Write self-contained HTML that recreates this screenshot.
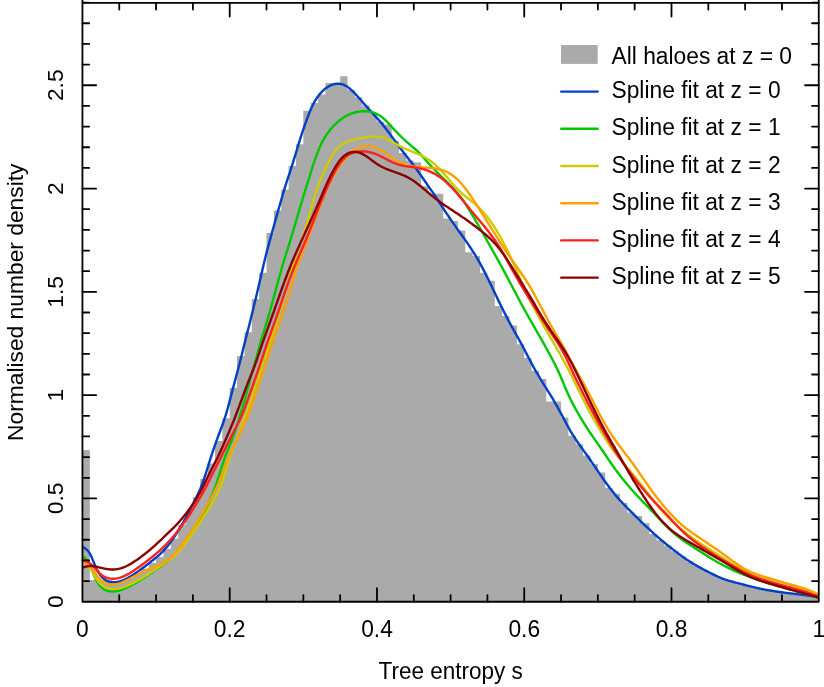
<!DOCTYPE html>
<html><head><meta charset="utf-8"><title>Tree entropy</title>
<style>html,body{margin:0;padding:0;background:#fff;}body{width:824px;height:687px;overflow:hidden;font-family:"Liberation Sans",sans-serif;}</style>
</head><body>
<svg width="824" height="687" viewBox="0 0 824 687" style="display:block;will-change:transform;font-family:'Liberation Sans',sans-serif">
<rect x="0" y="0" width="824" height="687" fill="#ffffff"/>
<path d="M82.45 601.75 L82.45 449.90 L89.81 449.90 L89.81 579.93 L97.18 579.93 L97.18 579.93 L104.54 579.93 L104.54 580.06 L111.90 580.06 L111.90 582.18 L119.27 582.18 L119.27 580.22 L126.63 580.22 L126.63 578.17 L133.99 578.17 L133.99 573.79 L141.35 573.79 L141.35 568.75 L148.72 568.75 L148.72 563.01 L156.08 563.01 L156.08 556.91 L163.44 556.91 L163.44 549.07 L170.81 549.07 L170.81 538.64 L178.17 538.64 L178.17 524.74 L185.53 524.74 L185.53 511.35 L192.89 511.35 L192.89 496.95 L200.26 496.95 L200.26 479.01 L207.62 479.01 L207.62 463.45 L214.98 463.45 L214.98 440.97 L222.35 440.97 L222.35 418.32 L229.71 418.32 L229.71 387.66 L237.07 387.66 L237.07 356.12 L244.44 356.12 L244.44 332.27 L251.80 332.27 L251.80 299.06 L259.16 299.06 L259.16 272.66 L266.52 272.66 L266.52 233.11 L273.89 233.11 L273.89 210.46 L281.25 210.46 L281.25 189.51 L288.61 189.51 L288.61 166.06 L295.98 166.06 L295.98 144.31 L303.34 144.31 L303.34 110.75 L310.70 110.75 L310.70 102.92 L318.07 102.92 L318.07 94.57 L325.43 94.57 L325.43 82.99 L332.79 82.99 L332.79 83.50 L340.15 83.50 L340.15 76.18 L347.52 76.18 L347.52 89.81 L354.88 89.81 L354.88 97.23 L362.24 97.23 L362.24 105.39 L369.61 105.39 L369.61 113.02 L376.97 113.02 L376.97 121.82 L384.33 121.82 L384.33 124.50 L391.70 124.50 L391.70 140.83 L399.06 140.83 L399.06 152.91 L406.42 152.91 L406.42 160.54 L413.78 160.54 L413.78 162.36 L421.15 162.36 L421.15 186.20 L428.51 186.20 L428.51 193.87 L435.87 193.87 L435.87 193.87 L443.24 193.87 L443.24 218.56 L450.60 218.56 L450.60 221.12 L457.96 221.12 L457.96 230.49 L465.33 230.49 L465.33 252.18 L472.69 252.18 L472.69 256.00 L480.05 256.00 L480.05 272.69 L487.42 272.69 L487.42 280.86 L494.78 280.86 L494.78 305.90 L502.14 305.90 L502.14 316.12 L509.50 316.12 L509.50 325.49 L516.87 325.49 L516.87 344.37 L524.23 344.37 L524.23 357.99 L531.59 357.99 L531.59 370.77 L538.96 370.77 L538.96 378.94 L546.32 378.94 L546.32 401.42 L553.68 401.42 L553.68 401.42 L561.04 401.42 L561.04 417.60 L568.41 417.60 L568.41 435.72 L575.77 435.72 L575.77 444.24 L583.13 444.24 L583.13 455.55 L590.50 455.55 L590.50 464.06 L597.86 464.06 L597.86 472.58 L605.22 472.58 L605.22 487.91 L612.59 487.91 L612.59 493.87 L619.95 493.87 L619.95 502.90 L627.31 502.90 L627.31 512.60 L634.67 512.60 L634.67 516.01 L642.04 516.01 L642.04 523.33 L649.40 523.33 L649.40 533.89 L656.76 533.89 L656.76 540.36 L664.13 540.36 L664.13 545.38 L671.49 545.38 L671.49 551.13 L678.85 551.13 L678.85 556.61 L686.22 556.61 L686.22 561.61 L693.58 561.61 L693.58 566.05 L700.94 566.05 L700.94 570.06 L708.30 570.06 L708.30 573.83 L715.67 573.83 L715.67 577.27 L723.03 577.27 L723.03 580.06 L730.39 580.06 L730.39 582.16 L737.76 582.16 L737.76 584.06 L745.12 584.06 L745.12 585.99 L752.48 585.99 L752.48 587.77 L759.85 587.77 L759.85 589.32 L767.21 589.32 L767.21 590.64 L774.57 590.64 L774.57 591.78 L781.93 591.78 L781.93 592.79 L789.30 592.79 L789.30 593.69 L796.66 593.69 L796.66 594.56 L804.02 594.56 L804.02 595.54 L811.39 595.54 L811.39 596.76 L818.75 596.76 L818.75 601.75 Z" fill="#aaaaaa" stroke="none"/>
<path d="M82.45 546.78 L83.50 547.40 L84.55 548.03 L85.61 548.72 L86.66 549.57 L87.71 550.62 L88.76 551.97 L89.81 553.61 L90.86 555.57 L91.92 557.85 L92.97 560.39 L94.02 563.00 L95.07 565.52 L96.12 567.88 L97.18 570.02 L98.23 571.93 L99.28 573.62 L100.33 575.12 L101.38 576.42 L102.44 577.56 L103.49 578.53 L104.54 579.36 L105.59 580.06 L106.64 580.65 L107.69 581.13 L108.75 581.52 L109.80 581.82 L110.85 582.05 L111.90 582.19 L112.95 582.27 L114.01 582.28 L115.06 582.23 L116.11 582.12 L117.16 581.96 L118.21 581.74 L119.27 581.48 L120.32 581.17 L121.37 580.82 L122.42 580.43 L123.47 580.01 L124.52 579.55 L125.58 579.06 L126.63 578.54 L127.68 577.99 L128.73 577.42 L129.78 576.82 L130.84 576.20 L131.89 575.56 L132.94 574.91 L133.99 574.23 L135.04 573.53 L136.09 572.82 L137.15 572.10 L138.20 571.36 L139.25 570.60 L140.30 569.84 L141.35 569.06 L142.41 568.28 L143.46 567.48 L144.51 566.68 L145.56 565.87 L146.61 565.06 L147.67 564.24 L148.72 563.42 L149.77 562.60 L150.82 561.77 L151.87 560.94 L152.92 560.11 L153.98 559.27 L155.03 558.42 L156.08 557.57 L157.13 556.70 L158.18 555.81 L159.24 554.91 L160.29 553.96 L161.34 552.97 L162.39 551.93 L163.44 550.83 L164.49 549.67 L165.55 548.47 L166.60 547.23 L167.65 545.95 L168.70 544.64 L169.75 543.28 L170.81 541.87 L171.86 540.41 L172.91 538.90 L173.96 537.36 L175.01 535.79 L176.07 534.18 L177.12 532.54 L178.17 530.87 L179.22 529.16 L180.27 527.41 L181.32 525.64 L182.38 523.83 L183.43 522.00 L184.48 520.14 L185.53 518.24 L186.58 516.31 L187.64 514.35 L188.69 512.36 L189.74 510.35 L190.79 508.31 L191.84 506.26 L192.89 504.21 L193.95 502.15 L195.00 500.09 L196.05 498.01 L197.10 495.88 L198.15 493.67 L199.21 491.35 L200.26 488.91 L201.31 486.31 L202.36 483.52 L203.41 480.56 L204.47 477.47 L205.52 474.27 L206.57 471.00 L207.62 467.67 L208.67 464.31 L209.72 460.96 L210.78 457.63 L211.83 454.37 L212.88 451.18 L213.93 448.07 L214.98 445.04 L216.04 442.06 L217.09 439.16 L218.14 436.31 L219.19 433.52 L220.24 430.74 L221.30 427.94 L222.35 425.10 L223.40 422.18 L224.45 419.13 L225.50 415.91 L226.55 412.46 L227.61 408.75 L228.66 404.87 L229.71 400.88 L230.76 396.86 L231.81 392.84 L232.87 388.82 L233.92 384.83 L234.97 380.86 L236.02 376.93 L237.07 372.99 L238.12 369.03 L239.18 365.03 L240.23 360.96 L241.28 356.81 L242.33 352.57 L243.38 348.26 L244.44 343.97 L245.49 339.74 L246.54 335.62 L247.59 331.54 L248.64 327.44 L249.70 323.27 L250.75 319.03 L251.80 314.74 L252.85 310.42 L253.90 306.08 L254.95 301.73 L256.01 297.37 L257.06 292.99 L258.11 288.56 L259.16 284.07 L260.21 279.52 L261.27 274.92 L262.32 270.32 L263.37 265.77 L264.42 261.28 L265.47 256.93 L266.52 252.79 L267.58 248.81 L268.63 244.93 L269.68 241.09 L270.73 237.25 L271.78 233.41 L272.84 229.60 L273.89 225.81 L274.94 222.04 L275.99 218.31 L277.04 214.61 L278.10 210.92 L279.15 207.25 L280.20 203.59 L281.25 199.93 L282.30 196.28 L283.35 192.68 L284.41 189.17 L285.46 185.76 L286.51 182.44 L287.56 179.21 L288.61 176.06 L289.67 172.92 L290.72 169.70 L291.77 166.41 L292.82 163.07 L293.87 159.70 L294.93 156.28 L295.98 152.78 L297.03 149.23 L298.08 145.71 L299.13 142.28 L300.18 138.96 L301.24 135.69 L302.29 132.43 L303.34 129.26 L304.39 126.25 L305.44 123.38 L306.50 120.55 L307.55 117.68 L308.60 114.84 L309.65 112.13 L310.70 109.57 L311.75 107.20 L312.81 105.00 L313.86 102.98 L314.91 101.11 L315.96 99.37 L317.01 97.76 L318.07 96.27 L319.12 94.90 L320.17 93.63 L321.22 92.46 L322.27 91.37 L323.33 90.36 L324.38 89.43 L325.43 88.58 L326.48 87.80 L327.53 87.09 L328.58 86.45 L329.64 85.87 L330.69 85.36 L331.74 84.92 L332.79 84.55 L333.84 84.24 L334.90 83.99 L335.95 83.82 L337.00 83.72 L338.05 83.69 L339.10 83.72 L340.15 83.84 L341.21 84.03 L342.26 84.30 L343.31 84.65 L344.36 85.08 L345.41 85.59 L346.47 86.18 L347.52 86.86 L348.57 87.61 L349.62 88.43 L350.67 89.33 L351.73 90.29 L352.78 91.32 L353.83 92.39 L354.88 93.50 L355.93 94.63 L356.98 95.79 L358.04 96.96 L359.09 98.14 L360.14 99.33 L361.19 100.53 L362.24 101.73 L363.30 102.93 L364.35 104.13 L365.40 105.31 L366.45 106.49 L367.50 107.67 L368.56 108.84 L369.61 110.01 L370.66 111.17 L371.71 112.32 L372.76 113.48 L373.81 114.63 L374.87 115.77 L375.92 116.92 L376.97 118.08 L378.02 119.24 L379.07 120.42 L380.13 121.62 L381.18 122.84 L382.23 124.10 L383.28 125.39 L384.33 126.70 L385.38 128.04 L386.44 129.40 L387.49 130.77 L388.54 132.17 L389.59 133.58 L390.64 135.01 L391.70 136.47 L392.75 137.94 L393.80 139.40 L394.85 140.86 L395.90 142.31 L396.96 143.75 L398.01 145.17 L399.06 146.57 L400.11 147.95 L401.16 149.33 L402.21 150.70 L403.27 152.08 L404.32 153.46 L405.37 154.84 L406.42 156.19 L407.47 157.53 L408.53 158.85 L409.58 160.17 L410.63 161.49 L411.68 162.81 L412.73 164.16 L413.78 165.52 L414.84 166.91 L415.89 168.33 L416.94 169.77 L417.99 171.25 L419.04 172.75 L420.10 174.26 L421.15 175.77 L422.20 177.27 L423.25 178.77 L424.30 180.27 L425.36 181.78 L426.41 183.30 L427.46 184.82 L428.51 186.34 L429.56 187.85 L430.61 189.36 L431.67 190.87 L432.72 192.38 L433.77 193.91 L434.82 195.46 L435.87 197.04 L436.93 198.64 L437.98 200.26 L439.03 201.89 L440.08 203.52 L441.13 205.15 L442.19 206.77 L443.24 208.38 L444.29 209.97 L445.34 211.56 L446.39 213.14 L447.44 214.70 L448.50 216.26 L449.55 217.80 L450.60 219.34 L451.65 220.86 L452.70 222.37 L453.76 223.88 L454.81 225.37 L455.86 226.86 L456.91 228.34 L457.96 229.82 L459.01 231.29 L460.07 232.76 L461.12 234.23 L462.17 235.71 L463.22 237.18 L464.27 238.66 L465.33 240.14 L466.38 241.64 L467.43 243.15 L468.48 244.68 L469.53 246.23 L470.59 247.80 L471.64 249.40 L472.69 251.03 L473.74 252.70 L474.79 254.39 L475.84 256.12 L476.90 257.89 L477.95 259.70 L479.00 261.55 L480.05 263.44 L481.10 265.37 L482.16 267.33 L483.21 269.32 L484.26 271.35 L485.31 273.41 L486.36 275.49 L487.42 277.61 L488.47 279.74 L489.52 281.90 L490.57 284.07 L491.62 286.26 L492.67 288.45 L493.73 290.66 L494.78 292.86 L495.83 295.06 L496.88 297.26 L497.93 299.45 L498.99 301.62 L500.04 303.78 L501.09 305.93 L502.14 308.06 L503.19 310.18 L504.24 312.27 L505.30 314.35 L506.35 316.41 L507.40 318.45 L508.45 320.47 L509.50 322.46 L510.56 324.42 L511.61 326.36 L512.66 328.27 L513.71 330.17 L514.76 332.04 L515.82 333.91 L516.87 335.76 L517.92 337.62 L518.97 339.49 L520.02 341.39 L521.07 343.33 L522.13 345.30 L523.18 347.29 L524.23 349.30 L525.28 351.33 L526.33 353.37 L527.39 355.42 L528.44 357.46 L529.49 359.49 L530.54 361.49 L531.59 363.46 L532.64 365.41 L533.70 367.32 L534.75 369.21 L535.80 371.06 L536.85 372.88 L537.90 374.68 L538.96 376.44 L540.01 378.18 L541.06 379.91 L542.11 381.61 L543.16 383.31 L544.22 385.01 L545.27 386.70 L546.32 388.39 L547.37 390.08 L548.42 391.78 L549.47 393.49 L550.53 395.21 L551.58 396.95 L552.63 398.70 L553.68 400.48 L554.73 402.27 L555.79 404.09 L556.84 405.94 L557.89 407.82 L558.94 409.71 L559.99 411.64 L561.04 413.58 L562.10 415.54 L563.15 417.52 L564.20 419.50 L565.25 421.49 L566.30 423.47 L567.36 425.42 L568.41 427.34 L569.46 429.22 L570.51 431.05 L571.56 432.82 L572.62 434.54 L573.67 436.21 L574.72 437.84 L575.77 439.43 L576.82 440.99 L577.87 442.52 L578.93 444.03 L579.98 445.51 L581.03 446.99 L582.08 448.45 L583.13 449.91 L584.19 451.37 L585.24 452.84 L586.29 454.31 L587.34 455.80 L588.39 457.29 L589.45 458.79 L590.50 460.30 L591.55 461.82 L592.60 463.36 L593.65 464.89 L594.70 466.44 L595.76 467.99 L596.81 469.54 L597.86 471.09 L598.91 472.64 L599.96 474.19 L601.02 475.72 L602.07 477.25 L603.12 478.77 L604.17 480.27 L605.22 481.75 L606.27 483.22 L607.33 484.66 L608.38 486.08 L609.43 487.49 L610.48 488.87 L611.53 490.22 L612.59 491.55 L613.64 492.86 L614.69 494.14 L615.74 495.40 L616.79 496.63 L617.85 497.84 L618.90 499.03 L619.95 500.20 L621.00 501.35 L622.05 502.49 L623.10 503.61 L624.16 504.72 L625.21 505.81 L626.26 506.90 L627.31 507.98 L628.36 509.05 L629.42 510.11 L630.47 511.17 L631.52 512.22 L632.57 513.27 L633.62 514.32 L634.67 515.36 L635.73 516.40 L636.78 517.43 L637.83 518.46 L638.88 519.49 L639.93 520.51 L640.99 521.53 L642.04 522.54 L643.09 523.54 L644.14 524.54 L645.19 525.53 L646.25 526.52 L647.30 527.50 L648.35 528.47 L649.40 529.45 L650.45 530.43 L651.50 531.40 L652.56 532.37 L653.61 533.34 L654.66 534.29 L655.71 535.24 L656.76 536.17 L657.82 537.10 L658.87 538.02 L659.92 538.92 L660.97 539.81 L662.02 540.68 L663.08 541.55 L664.13 542.42 L665.18 543.27 L666.23 544.12 L667.28 544.96 L668.33 545.79 L669.39 546.62 L670.44 547.45 L671.49 548.27 L672.54 549.10 L673.59 549.91 L674.65 550.73 L675.70 551.54 L676.75 552.34 L677.80 553.13 L678.85 553.92 L679.90 554.70 L680.96 555.47 L682.01 556.24 L683.06 556.99 L684.11 557.73 L685.16 558.46 L686.22 559.18 L687.27 559.89 L688.32 560.59 L689.37 561.27 L690.42 561.95 L691.48 562.61 L692.53 563.26 L693.58 563.89 L694.63 564.52 L695.68 565.14 L696.73 565.75 L697.79 566.35 L698.84 566.94 L699.89 567.52 L700.94 568.09 L701.99 568.66 L703.05 569.22 L704.10 569.78 L705.15 570.34 L706.20 570.88 L707.25 571.43 L708.30 571.97 L709.36 572.51 L710.41 573.04 L711.46 573.57 L712.51 574.09 L713.56 574.60 L714.62 575.11 L715.67 575.61 L716.72 576.10 L717.77 576.58 L718.82 577.04 L719.88 577.49 L720.93 577.93 L721.98 578.35 L723.03 578.76 L724.08 579.15 L725.13 579.53 L726.19 579.89 L727.24 580.23 L728.29 580.56 L729.34 580.87 L730.39 581.17 L731.45 581.47 L732.50 581.75 L733.55 582.03 L734.60 582.30 L735.65 582.57 L736.71 582.84 L737.76 583.11 L738.81 583.38 L739.86 583.65 L740.91 583.93 L741.96 584.20 L743.02 584.48 L744.07 584.76 L745.12 585.03 L746.17 585.31 L747.22 585.58 L748.28 585.85 L749.33 586.12 L750.38 586.39 L751.43 586.65 L752.48 586.91 L753.53 587.16 L754.59 587.41 L755.64 587.65 L756.69 587.89 L757.74 588.13 L758.79 588.36 L759.85 588.58 L760.90 588.80 L761.95 589.01 L763.00 589.22 L764.05 589.43 L765.11 589.63 L766.16 589.82 L767.21 590.01 L768.26 590.20 L769.31 590.38 L770.36 590.55 L771.42 590.73 L772.47 590.90 L773.52 591.06 L774.57 591.23 L775.62 591.39 L776.68 591.54 L777.73 591.70 L778.78 591.85 L779.83 592.00 L780.88 592.15 L781.93 592.30 L782.99 592.44 L784.04 592.58 L785.09 592.72 L786.14 592.86 L787.19 592.99 L788.25 593.12 L789.30 593.25 L790.35 593.38 L791.40 593.51 L792.45 593.63 L793.51 593.76 L794.56 593.88 L795.61 594.00 L796.66 594.12 L797.71 594.24 L798.76 594.37 L799.82 594.49 L800.87 594.62 L801.92 594.75 L802.97 594.88 L804.02 595.02 L805.08 595.16 L806.13 595.31 L807.18 595.46 L808.23 595.62 L809.28 595.78 L810.34 595.95 L811.39 596.12 L812.44 596.30 L813.49 596.48 L814.54 596.66 L815.59 596.85 L816.65 597.04 L817.70 597.23 L818.75 597.42" fill="none" stroke="#0040c8" stroke-width="2.4" stroke-linejoin="round" stroke-linecap="butt"/>
<path d="M82.45 556.10 L83.50 557.01 L84.55 557.93 L85.61 558.93 L86.66 560.07 L87.71 561.42 L88.76 563.06 L89.81 565.05 L90.86 567.38 L91.92 569.97 L92.97 572.68 L94.02 575.34 L95.07 577.79 L96.12 579.96 L97.18 581.87 L98.23 583.53 L99.28 584.96 L100.33 586.20 L101.38 587.26 L102.44 588.16 L103.49 588.92 L104.54 589.55 L105.59 590.08 L106.64 590.52 L107.69 590.86 L108.75 591.12 L109.80 591.30 L110.85 591.42 L111.90 591.48 L112.95 591.48 L114.01 591.43 L115.06 591.33 L116.11 591.18 L117.16 590.99 L118.21 590.75 L119.27 590.48 L120.32 590.18 L121.37 589.83 L122.42 589.46 L123.47 589.06 L124.52 588.63 L125.58 588.18 L126.63 587.70 L127.68 587.21 L128.73 586.69 L129.78 586.16 L130.84 585.60 L131.89 585.04 L132.94 584.45 L133.99 583.86 L135.04 583.26 L136.09 582.65 L137.15 582.02 L138.20 581.40 L139.25 580.76 L140.30 580.11 L141.35 579.46 L142.41 578.80 L143.46 578.13 L144.51 577.46 L145.56 576.78 L146.61 576.10 L147.67 575.41 L148.72 574.71 L149.77 574.00 L150.82 573.28 L151.87 572.55 L152.92 571.82 L153.98 571.08 L155.03 570.34 L156.08 569.60 L157.13 568.86 L158.18 568.11 L159.24 567.36 L160.29 566.60 L161.34 565.84 L162.39 565.07 L163.44 564.30 L164.49 563.52 L165.55 562.73 L166.60 561.93 L167.65 561.11 L168.70 560.27 L169.75 559.41 L170.81 558.52 L171.86 557.59 L172.91 556.64 L173.96 555.64 L175.01 554.60 L176.07 553.51 L177.12 552.37 L178.17 551.17 L179.22 549.92 L180.27 548.63 L181.32 547.31 L182.38 545.94 L183.43 544.55 L184.48 543.12 L185.53 541.67 L186.58 540.19 L187.64 538.69 L188.69 537.17 L189.74 535.63 L190.79 534.07 L191.84 532.50 L192.89 530.92 L193.95 529.32 L195.00 527.70 L196.05 526.06 L197.10 524.39 L198.15 522.70 L199.21 520.98 L200.26 519.23 L201.31 517.43 L202.36 515.59 L203.41 513.68 L204.47 511.71 L205.52 509.65 L206.57 507.52 L207.62 505.29 L208.67 502.96 L209.72 500.56 L210.78 498.09 L211.83 495.58 L212.88 493.04 L213.93 490.43 L214.98 487.70 L216.04 484.81 L217.09 481.71 L218.14 478.47 L219.19 475.15 L220.24 471.76 L221.30 468.37 L222.35 465.03 L223.40 461.77 L224.45 458.67 L225.50 455.76 L226.55 453.05 L227.61 450.44 L228.66 447.89 L229.71 445.36 L230.76 442.79 L231.81 440.16 L232.87 437.40 L233.92 434.49 L234.97 431.45 L236.02 428.27 L237.07 424.99 L238.12 421.60 L239.18 418.13 L240.23 414.67 L241.28 411.24 L242.33 407.81 L243.38 404.33 L244.44 400.72 L245.49 396.98 L246.54 393.12 L247.59 389.18 L248.64 385.20 L249.70 381.25 L250.75 377.40 L251.80 373.64 L252.85 369.93 L253.90 366.25 L254.95 362.55 L256.01 358.81 L257.06 355.00 L258.11 351.16 L259.16 347.35 L260.21 343.62 L261.27 340.01 L262.32 336.54 L263.37 333.12 L264.42 329.68 L265.47 326.23 L266.52 322.74 L267.58 319.22 L268.63 315.63 L269.68 311.99 L270.73 308.27 L271.78 304.49 L272.84 300.66 L273.89 296.81 L274.94 292.93 L275.99 289.06 L277.04 285.20 L278.10 281.35 L279.15 277.55 L280.20 273.79 L281.25 270.08 L282.30 266.45 L283.35 262.89 L284.41 259.41 L285.46 255.98 L286.51 252.62 L287.56 249.30 L288.61 245.99 L289.67 242.64 L290.72 239.20 L291.77 235.71 L292.82 232.19 L293.87 228.65 L294.93 225.09 L295.98 221.51 L297.03 217.91 L298.08 214.31 L299.13 210.73 L300.18 207.17 L301.24 203.63 L302.29 200.10 L303.34 196.60 L304.39 193.16 L305.44 189.77 L306.50 186.39 L307.55 183.03 L308.60 179.65 L309.65 176.27 L310.70 172.88 L311.75 169.52 L312.81 166.21 L313.86 163.00 L314.91 159.90 L315.96 156.91 L317.01 154.04 L318.07 151.32 L319.12 148.75 L320.17 146.33 L321.22 144.05 L322.27 141.92 L323.33 139.92 L324.38 138.04 L325.43 136.29 L326.48 134.68 L327.53 133.17 L328.58 131.76 L329.64 130.41 L330.69 129.12 L331.74 127.89 L332.79 126.72 L333.84 125.61 L334.90 124.55 L335.95 123.53 L337.00 122.56 L338.05 121.63 L339.10 120.76 L340.15 119.94 L341.21 119.17 L342.26 118.43 L343.31 117.73 L344.36 117.06 L345.41 116.42 L346.47 115.83 L347.52 115.27 L348.57 114.75 L349.62 114.28 L350.67 113.84 L351.73 113.44 L352.78 113.08 L353.83 112.76 L354.88 112.47 L355.93 112.21 L356.98 111.99 L358.04 111.79 L359.09 111.63 L360.14 111.49 L361.19 111.38 L362.24 111.30 L363.30 111.25 L364.35 111.23 L365.40 111.24 L366.45 111.28 L367.50 111.36 L368.56 111.47 L369.61 111.62 L370.66 111.81 L371.71 112.05 L372.76 112.33 L373.81 112.66 L374.87 113.05 L375.92 113.49 L376.97 113.98 L378.02 114.54 L379.07 115.16 L380.13 115.84 L381.18 116.58 L382.23 117.39 L383.28 118.26 L384.33 119.19 L385.38 120.17 L386.44 121.20 L387.49 122.27 L388.54 123.38 L389.59 124.51 L390.64 125.66 L391.70 126.80 L392.75 127.94 L393.80 129.07 L394.85 130.20 L395.90 131.32 L396.96 132.43 L398.01 133.53 L399.06 134.62 L400.11 135.68 L401.16 136.73 L402.21 137.75 L403.27 138.75 L404.32 139.71 L405.37 140.66 L406.42 141.60 L407.47 142.53 L408.53 143.46 L409.58 144.38 L410.63 145.29 L411.68 146.19 L412.73 147.09 L413.78 147.97 L414.84 148.86 L415.89 149.76 L416.94 150.69 L417.99 151.67 L419.04 152.70 L420.10 153.79 L421.15 154.93 L422.20 156.12 L423.25 157.32 L424.30 158.53 L425.36 159.73 L426.41 160.91 L427.46 162.09 L428.51 163.25 L429.56 164.40 L430.61 165.54 L431.67 166.67 L432.72 167.78 L433.77 168.89 L434.82 169.98 L435.87 171.06 L436.93 172.13 L437.98 173.18 L439.03 174.23 L440.08 175.27 L441.13 176.30 L442.19 177.33 L443.24 178.35 L444.29 179.38 L445.34 180.40 L446.39 181.43 L447.44 182.46 L448.50 183.50 L449.55 184.56 L450.60 185.62 L451.65 186.71 L452.70 187.81 L453.76 188.93 L454.81 190.07 L455.86 191.24 L456.91 192.45 L457.96 193.69 L459.01 194.97 L460.07 196.31 L461.12 197.70 L462.17 199.15 L463.22 200.65 L464.27 202.20 L465.33 203.80 L466.38 205.42 L467.43 207.08 L468.48 208.77 L469.53 210.47 L470.59 212.18 L471.64 213.92 L472.69 215.66 L473.74 217.42 L474.79 219.20 L475.84 220.98 L476.90 222.77 L477.95 224.57 L479.00 226.38 L480.05 228.19 L481.10 230.01 L482.16 231.84 L483.21 233.69 L484.26 235.55 L485.31 237.43 L486.36 239.33 L487.42 241.24 L488.47 243.14 L489.52 245.04 L490.57 246.91 L491.62 248.77 L492.67 250.63 L493.73 252.49 L494.78 254.36 L495.83 256.23 L496.88 258.11 L497.93 259.99 L498.99 261.89 L500.04 263.80 L501.09 265.72 L502.14 267.66 L503.19 269.60 L504.24 271.56 L505.30 273.52 L506.35 275.49 L507.40 277.48 L508.45 279.46 L509.50 281.46 L510.56 283.46 L511.61 285.46 L512.66 287.47 L513.71 289.48 L514.76 291.49 L515.82 293.50 L516.87 295.51 L517.92 297.50 L518.97 299.49 L520.02 301.47 L521.07 303.43 L522.13 305.37 L523.18 307.30 L524.23 309.21 L525.28 311.12 L526.33 313.01 L527.39 314.89 L528.44 316.76 L529.49 318.62 L530.54 320.48 L531.59 322.33 L532.64 324.17 L533.70 326.00 L534.75 327.83 L535.80 329.65 L536.85 331.47 L537.90 333.30 L538.96 335.13 L540.01 336.98 L541.06 338.83 L542.11 340.69 L543.16 342.56 L544.22 344.44 L545.27 346.33 L546.32 348.22 L547.37 350.14 L548.42 352.08 L549.47 354.02 L550.53 355.98 L551.58 357.94 L552.63 359.91 L553.68 361.93 L554.73 363.98 L555.79 366.07 L556.84 368.21 L557.89 370.39 L558.94 372.66 L559.99 375.03 L561.04 377.49 L562.10 380.03 L563.15 382.58 L564.20 385.11 L565.25 387.60 L566.30 390.05 L567.36 392.44 L568.41 394.77 L569.46 397.03 L570.51 399.22 L571.56 401.35 L572.62 403.41 L573.67 405.43 L574.72 407.39 L575.77 409.31 L576.82 411.19 L577.87 413.03 L578.93 414.84 L579.98 416.62 L581.03 418.38 L582.08 420.11 L583.13 421.82 L584.19 423.50 L585.24 425.17 L586.29 426.82 L587.34 428.44 L588.39 430.05 L589.45 431.64 L590.50 433.21 L591.55 434.76 L592.60 436.30 L593.65 437.84 L594.70 439.36 L595.76 440.88 L596.81 442.39 L597.86 443.91 L598.91 445.43 L599.96 446.95 L601.02 448.47 L602.07 450.01 L603.12 451.55 L604.17 453.10 L605.22 454.67 L606.27 456.24 L607.33 457.81 L608.38 459.37 L609.43 460.93 L610.48 462.46 L611.53 463.99 L612.59 465.49 L613.64 466.98 L614.69 468.45 L615.74 469.89 L616.79 471.31 L617.85 472.72 L618.90 474.10 L619.95 475.47 L621.00 476.81 L622.05 478.15 L623.10 479.46 L624.16 480.76 L625.21 482.05 L626.26 483.32 L627.31 484.57 L628.36 485.81 L629.42 487.04 L630.47 488.25 L631.52 489.45 L632.57 490.64 L633.62 491.82 L634.67 492.98 L635.73 494.13 L636.78 495.28 L637.83 496.41 L638.88 497.54 L639.93 498.65 L640.99 499.76 L642.04 500.85 L643.09 501.94 L644.14 503.02 L645.19 504.10 L646.25 505.17 L647.30 506.25 L648.35 507.32 L649.40 508.39 L650.45 509.46 L651.50 510.54 L652.56 511.63 L653.61 512.72 L654.66 513.83 L655.71 514.95 L656.76 516.07 L657.82 517.20 L658.87 518.33 L659.92 519.45 L660.97 520.58 L662.02 521.69 L663.08 522.80 L664.13 523.89 L665.18 524.97 L666.23 526.03 L667.28 527.08 L668.33 528.10 L669.39 529.11 L670.44 530.09 L671.49 531.05 L672.54 531.99 L673.59 532.91 L674.65 533.81 L675.70 534.68 L676.75 535.53 L677.80 536.36 L678.85 537.17 L679.90 537.97 L680.96 538.74 L682.01 539.50 L683.06 540.25 L684.11 540.99 L685.16 541.71 L686.22 542.43 L687.27 543.14 L688.32 543.85 L689.37 544.55 L690.42 545.24 L691.48 545.92 L692.53 546.60 L693.58 547.28 L694.63 547.96 L695.68 548.64 L696.73 549.32 L697.79 549.99 L698.84 550.67 L699.89 551.34 L700.94 552.01 L701.99 552.68 L703.05 553.34 L704.10 554.01 L705.15 554.67 L706.20 555.32 L707.25 555.97 L708.30 556.62 L709.36 557.27 L710.41 557.92 L711.46 558.56 L712.51 559.19 L713.56 559.82 L714.62 560.45 L715.67 561.07 L716.72 561.68 L717.77 562.29 L718.82 562.89 L719.88 563.48 L720.93 564.06 L721.98 564.63 L723.03 565.20 L724.08 565.76 L725.13 566.30 L726.19 566.84 L727.24 567.37 L728.29 567.89 L729.34 568.40 L730.39 568.91 L731.45 569.41 L732.50 569.90 L733.55 570.38 L734.60 570.86 L735.65 571.33 L736.71 571.79 L737.76 572.25 L738.81 572.69 L739.86 573.14 L740.91 573.57 L741.96 574.00 L743.02 574.43 L744.07 574.84 L745.12 575.26 L746.17 575.66 L747.22 576.07 L748.28 576.47 L749.33 576.86 L750.38 577.25 L751.43 577.64 L752.48 578.02 L753.53 578.40 L754.59 578.77 L755.64 579.14 L756.69 579.51 L757.74 579.87 L758.79 580.22 L759.85 580.57 L760.90 580.92 L761.95 581.27 L763.00 581.61 L764.05 581.94 L765.11 582.27 L766.16 582.60 L767.21 582.92 L768.26 583.24 L769.31 583.56 L770.36 583.87 L771.42 584.18 L772.47 584.49 L773.52 584.80 L774.57 585.11 L775.62 585.41 L776.68 585.72 L777.73 586.02 L778.78 586.32 L779.83 586.62 L780.88 586.92 L781.93 587.22 L782.99 587.52 L784.04 587.82 L785.09 588.11 L786.14 588.40 L787.19 588.70 L788.25 588.99 L789.30 589.28 L790.35 589.57 L791.40 589.85 L792.45 590.14 L793.51 590.43 L794.56 590.71 L795.61 591.00 L796.66 591.29 L797.71 591.57 L798.76 591.86 L799.82 592.15 L800.87 592.44 L801.92 592.73 L802.97 593.03 L804.02 593.33 L805.08 593.63 L806.13 593.93 L807.18 594.24 L808.23 594.55 L809.28 594.87 L810.34 595.19 L811.39 595.51 L812.44 595.84 L813.49 596.17 L814.54 596.50 L815.59 596.84 L816.65 597.17 L817.70 597.51 L818.75 597.84" fill="none" stroke="#00c800" stroke-width="2.4" stroke-linejoin="round" stroke-linecap="butt"/>
<path d="M82.45 560.71 L83.50 561.50 L84.55 562.31 L85.61 563.14 L86.66 564.05 L87.71 565.08 L88.76 566.26 L89.81 567.60 L90.86 569.12 L91.92 570.83 L92.97 572.69 L94.02 574.61 L95.07 576.50 L96.12 578.27 L97.18 579.89 L98.23 581.34 L99.28 582.62 L100.33 583.73 L101.38 584.69 L102.44 585.52 L103.49 586.24 L104.54 586.85 L105.59 587.38 L106.64 587.81 L107.69 588.17 L108.75 588.46 L109.80 588.69 L110.85 588.85 L111.90 588.96 L112.95 589.01 L114.01 589.01 L115.06 588.97 L116.11 588.88 L117.16 588.75 L118.21 588.58 L119.27 588.37 L120.32 588.13 L121.37 587.85 L122.42 587.54 L123.47 587.20 L124.52 586.84 L125.58 586.44 L126.63 586.03 L127.68 585.59 L128.73 585.13 L129.78 584.65 L130.84 584.16 L131.89 583.64 L132.94 583.12 L133.99 582.57 L135.04 582.02 L136.09 581.45 L137.15 580.88 L138.20 580.29 L139.25 579.70 L140.30 579.09 L141.35 578.47 L142.41 577.85 L143.46 577.21 L144.51 576.57 L145.56 575.93 L146.61 575.27 L147.67 574.61 L148.72 573.93 L149.77 573.25 L150.82 572.55 L151.87 571.84 L152.92 571.13 L153.98 570.41 L155.03 569.69 L156.08 568.96 L157.13 568.23 L158.18 567.50 L159.24 566.76 L160.29 566.02 L161.34 565.28 L162.39 564.54 L163.44 563.80 L164.49 563.06 L165.55 562.32 L166.60 561.58 L167.65 560.82 L168.70 560.07 L169.75 559.30 L170.81 558.52 L171.86 557.72 L172.91 556.90 L173.96 556.05 L175.01 555.16 L176.07 554.23 L177.12 553.24 L178.17 552.18 L179.22 551.06 L180.27 549.87 L181.32 548.63 L182.38 547.35 L183.43 546.03 L184.48 544.67 L185.53 543.29 L186.58 541.87 L187.64 540.42 L188.69 538.94 L189.74 537.45 L190.79 535.93 L191.84 534.40 L192.89 532.86 L193.95 531.32 L195.00 529.77 L196.05 528.22 L197.10 526.65 L198.15 525.08 L199.21 523.49 L200.26 521.89 L201.31 520.28 L202.36 518.65 L203.41 517.00 L204.47 515.35 L205.52 513.69 L206.57 512.01 L207.62 510.32 L208.67 508.61 L209.72 506.88 L210.78 505.13 L211.83 503.36 L212.88 501.56 L213.93 499.75 L214.98 497.90 L216.04 496.02 L217.09 494.07 L218.14 491.94 L219.19 489.57 L220.24 486.96 L221.30 484.12 L222.35 481.10 L223.40 477.92 L224.45 474.62 L225.50 471.25 L226.55 467.84 L227.61 464.45 L228.66 461.12 L229.71 457.91 L230.76 454.87 L231.81 452.02 L232.87 449.31 L233.92 446.68 L234.97 444.09 L236.02 441.50 L237.07 438.85 L238.12 436.10 L239.18 433.26 L240.23 430.34 L241.28 427.35 L242.33 424.32 L243.38 421.25 L244.44 418.17 L245.49 415.18 L246.54 412.29 L247.59 409.45 L248.64 406.60 L249.70 403.70 L250.75 400.71 L251.80 397.65 L252.85 394.50 L253.90 391.29 L254.95 388.01 L256.01 384.69 L257.06 381.39 L258.11 378.12 L259.16 374.87 L260.21 371.64 L261.27 368.42 L262.32 365.22 L263.37 362.02 L264.42 358.84 L265.47 355.65 L266.52 352.46 L267.58 349.26 L268.63 346.06 L269.68 342.85 L270.73 339.62 L271.78 336.37 L272.84 333.10 L273.89 329.80 L274.94 326.48 L275.99 323.14 L277.04 319.77 L278.10 316.38 L279.15 312.97 L280.20 309.52 L281.25 306.03 L282.30 302.49 L283.35 298.90 L284.41 295.23 L285.46 291.48 L286.51 287.67 L287.56 283.80 L288.61 279.92 L289.67 276.03 L290.72 272.17 L291.77 268.43 L292.82 264.90 L293.87 261.59 L294.93 258.40 L295.98 255.32 L297.03 252.30 L298.08 249.33 L299.13 246.39 L300.18 243.45 L301.24 240.48 L302.29 237.46 L303.34 234.40 L304.39 231.28 L305.44 228.12 L306.50 224.91 L307.55 221.62 L308.60 218.19 L309.65 214.59 L310.70 210.83 L311.75 206.93 L312.81 202.94 L313.86 199.06 L314.91 195.51 L315.96 192.22 L317.01 189.11 L318.07 186.11 L319.12 183.24 L320.17 180.46 L321.22 177.77 L322.27 175.18 L323.33 172.71 L324.38 170.36 L325.43 168.11 L326.48 165.95 L327.53 163.88 L328.58 161.90 L329.64 160.00 L330.69 158.15 L331.74 156.38 L332.79 154.72 L333.84 153.16 L334.90 151.71 L335.95 150.36 L337.00 149.12 L338.05 147.98 L339.10 146.94 L340.15 146.00 L341.21 145.15 L342.26 144.38 L343.31 143.70 L344.36 143.08 L345.41 142.53 L346.47 142.05 L347.52 141.61 L348.57 141.22 L349.62 140.87 L350.67 140.55 L351.73 140.26 L352.78 139.99 L353.83 139.74 L354.88 139.51 L355.93 139.28 L356.98 139.06 L358.04 138.84 L359.09 138.63 L360.14 138.42 L361.19 138.22 L362.24 138.01 L363.30 137.81 L364.35 137.62 L365.40 137.43 L366.45 137.26 L367.50 137.09 L368.56 136.93 L369.61 136.80 L370.66 136.67 L371.71 136.58 L372.76 136.50 L373.81 136.45 L374.87 136.43 L375.92 136.44 L376.97 136.49 L378.02 136.58 L379.07 136.71 L380.13 136.88 L381.18 137.09 L382.23 137.36 L383.28 137.66 L384.33 138.02 L385.38 138.42 L386.44 138.86 L387.49 139.35 L388.54 139.86 L389.59 140.41 L390.64 140.98 L391.70 141.56 L392.75 142.16 L393.80 142.76 L394.85 143.37 L395.90 143.97 L396.96 144.56 L398.01 145.15 L399.06 145.72 L400.11 146.28 L401.16 146.82 L402.21 147.34 L403.27 147.84 L404.32 148.33 L405.37 148.81 L406.42 149.26 L407.47 149.71 L408.53 150.15 L409.58 150.57 L410.63 150.99 L411.68 151.41 L412.73 151.83 L413.78 152.25 L414.84 152.67 L415.89 153.10 L416.94 153.54 L417.99 153.99 L419.04 154.45 L420.10 154.93 L421.15 155.43 L422.20 155.95 L423.25 156.50 L424.30 157.06 L425.36 157.66 L426.41 158.27 L427.46 158.92 L428.51 159.60 L429.56 160.31 L430.61 161.05 L431.67 161.83 L432.72 162.64 L433.77 163.49 L434.82 164.38 L435.87 165.32 L436.93 166.29 L437.98 167.30 L439.03 168.35 L440.08 169.43 L441.13 170.53 L442.19 171.66 L443.24 172.82 L444.29 174.00 L445.34 175.21 L446.39 176.45 L447.44 177.70 L448.50 178.97 L449.55 180.23 L450.60 181.49 L451.65 182.72 L452.70 183.93 L453.76 185.11 L454.81 186.26 L455.86 187.39 L456.91 188.50 L457.96 189.57 L459.01 190.63 L460.07 191.65 L461.12 192.64 L462.17 193.59 L463.22 194.51 L464.27 195.40 L465.33 196.27 L466.38 197.12 L467.43 197.95 L468.48 198.78 L469.53 199.60 L470.59 200.43 L471.64 201.27 L472.69 202.13 L473.74 203.00 L474.79 203.89 L475.84 204.81 L476.90 205.75 L477.95 206.72 L479.00 207.73 L480.05 208.77 L481.10 209.85 L482.16 210.98 L483.21 212.14 L484.26 213.35 L485.31 214.59 L486.36 215.88 L487.42 217.21 L488.47 218.59 L489.52 220.01 L490.57 221.47 L491.62 222.98 L492.67 224.53 L493.73 226.13 L494.78 227.76 L495.83 229.44 L496.88 231.15 L497.93 232.90 L498.99 234.68 L500.04 236.51 L501.09 238.37 L502.14 240.28 L503.19 242.23 L504.24 244.22 L505.30 246.25 L506.35 248.33 L507.40 250.44 L508.45 252.60 L509.50 254.81 L510.56 257.05 L511.61 259.34 L512.66 261.66 L513.71 264.02 L514.76 266.40 L515.82 268.80 L516.87 271.21 L517.92 273.61 L518.97 276.02 L520.02 278.41 L521.07 280.78 L522.13 283.13 L523.18 285.45 L524.23 287.75 L525.28 290.02 L526.33 292.27 L527.39 294.50 L528.44 296.70 L529.49 298.87 L530.54 301.00 L531.59 303.10 L532.64 305.17 L533.70 307.22 L534.75 309.26 L535.80 311.28 L536.85 313.29 L537.90 315.28 L538.96 317.25 L540.01 319.20 L541.06 321.13 L542.11 323.04 L543.16 324.92 L544.22 326.79 L545.27 328.63 L546.32 330.46 L547.37 332.27 L548.42 334.06 L549.47 335.85 L550.53 337.64 L551.58 339.43 L552.63 341.22 L553.68 343.03 L554.73 344.85 L555.79 346.68 L556.84 348.52 L557.89 350.36 L558.94 352.22 L559.99 354.09 L561.04 355.97 L562.10 357.86 L563.15 359.76 L564.20 361.68 L565.25 363.62 L566.30 365.58 L567.36 367.56 L568.41 369.58 L569.46 371.62 L570.51 373.69 L571.56 375.80 L572.62 377.93 L573.67 380.08 L574.72 382.25 L575.77 384.42 L576.82 386.59 L577.87 388.76 L578.93 390.92 L579.98 393.07 L581.03 395.21 L582.08 397.33 L583.13 399.43 L584.19 401.51 L585.24 403.57 L586.29 405.61 L587.34 407.62 L588.39 409.61 L589.45 411.57 L590.50 413.52 L591.55 415.44 L592.60 417.34 L593.65 419.21 L594.70 421.06 L595.76 422.89 L596.81 424.69 L597.86 426.48 L598.91 428.24 L599.96 429.98 L601.02 431.72 L602.07 433.44 L603.12 435.15 L604.17 436.84 L605.22 438.50 L606.27 440.16 L607.33 441.79 L608.38 443.40 L609.43 444.99 L610.48 446.54 L611.53 448.06 L612.59 449.54 L613.64 450.99 L614.69 452.41 L615.74 453.79 L616.79 455.14 L617.85 456.47 L618.90 457.78 L619.95 459.08 L621.00 460.36 L622.05 461.63 L623.10 462.90 L624.16 464.15 L625.21 465.40 L626.26 466.64 L627.31 467.88 L628.36 469.12 L629.42 470.36 L630.47 471.60 L631.52 472.84 L632.57 474.09 L633.62 475.35 L634.67 476.61 L635.73 477.88 L636.78 479.16 L637.83 480.45 L638.88 481.75 L639.93 483.05 L640.99 484.36 L642.04 485.69 L643.09 487.01 L644.14 488.35 L645.19 489.70 L646.25 491.05 L647.30 492.40 L648.35 493.76 L649.40 495.13 L650.45 496.50 L651.50 497.86 L652.56 499.23 L653.61 500.59 L654.66 501.95 L655.71 503.29 L656.76 504.62 L657.82 505.94 L658.87 507.23 L659.92 508.50 L660.97 509.75 L662.02 510.96 L663.08 512.14 L664.13 513.30 L665.18 514.43 L666.23 515.54 L667.28 516.63 L668.33 517.70 L669.39 518.75 L670.44 519.78 L671.49 520.79 L672.54 521.78 L673.59 522.76 L674.65 523.71 L675.70 524.66 L676.75 525.58 L677.80 526.49 L678.85 527.38 L679.90 528.26 L680.96 529.12 L682.01 529.97 L683.06 530.81 L684.11 531.63 L685.16 532.45 L686.22 533.26 L687.27 534.06 L688.32 534.85 L689.37 535.62 L690.42 536.40 L691.48 537.16 L692.53 537.92 L693.58 538.67 L694.63 539.41 L695.68 540.14 L696.73 540.86 L697.79 541.58 L698.84 542.29 L699.89 543.00 L700.94 543.69 L701.99 544.39 L703.05 545.07 L704.10 545.75 L705.15 546.43 L706.20 547.11 L707.25 547.79 L708.30 548.46 L709.36 549.14 L710.41 549.82 L711.46 550.49 L712.51 551.17 L713.56 551.85 L714.62 552.53 L715.67 553.21 L716.72 553.89 L717.77 554.57 L718.82 555.24 L719.88 555.92 L720.93 556.59 L721.98 557.26 L723.03 557.93 L724.08 558.60 L725.13 559.26 L726.19 559.92 L727.24 560.58 L728.29 561.23 L729.34 561.87 L730.39 562.51 L731.45 563.14 L732.50 563.76 L733.55 564.37 L734.60 564.98 L735.65 565.57 L736.71 566.16 L737.76 566.74 L738.81 567.31 L739.86 567.87 L740.91 568.42 L741.96 568.96 L743.02 569.49 L744.07 570.00 L745.12 570.50 L746.17 570.99 L747.22 571.47 L748.28 571.93 L749.33 572.37 L750.38 572.81 L751.43 573.22 L752.48 573.63 L753.53 574.02 L754.59 574.40 L755.64 574.77 L756.69 575.13 L757.74 575.47 L758.79 575.81 L759.85 576.14 L760.90 576.47 L761.95 576.78 L763.00 577.10 L764.05 577.40 L765.11 577.71 L766.16 578.01 L767.21 578.30 L768.26 578.60 L769.31 578.89 L770.36 579.18 L771.42 579.47 L772.47 579.76 L773.52 580.04 L774.57 580.33 L775.62 580.61 L776.68 580.89 L777.73 581.17 L778.78 581.45 L779.83 581.73 L780.88 582.00 L781.93 582.27 L782.99 582.54 L784.04 582.81 L785.09 583.08 L786.14 583.34 L787.19 583.60 L788.25 583.86 L789.30 584.12 L790.35 584.38 L791.40 584.65 L792.45 584.91 L793.51 585.18 L794.56 585.44 L795.61 585.72 L796.66 586.00 L797.71 586.28 L798.76 586.58 L799.82 586.88 L800.87 587.19 L801.92 587.52 L802.97 587.86 L804.02 588.21 L805.08 588.58 L806.13 588.96 L807.18 589.36 L808.23 589.77 L809.28 590.20 L810.34 590.65 L811.39 591.11 L812.44 591.58 L813.49 592.07 L814.54 592.56 L815.59 593.06 L816.65 593.57 L817.70 594.08 L818.75 594.60" fill="none" stroke="#cccc00" stroke-width="2.4" stroke-linejoin="round" stroke-linecap="butt"/>
<path d="M82.45 560.89 L83.50 561.51 L84.55 562.13 L85.61 562.78 L86.66 563.48 L87.71 564.26 L88.76 565.14 L89.81 566.14 L90.86 567.28 L91.92 568.56 L92.97 569.98 L94.02 571.48 L95.07 573.02 L96.12 574.55 L97.18 576.01 L98.23 577.39 L99.28 578.63 L100.33 579.73 L101.38 580.68 L102.44 581.49 L103.49 582.19 L104.54 582.78 L105.59 583.27 L106.64 583.67 L107.69 583.98 L108.75 584.22 L109.80 584.38 L110.85 584.48 L111.90 584.52 L112.95 584.50 L114.01 584.43 L115.06 584.31 L116.11 584.14 L117.16 583.93 L118.21 583.67 L119.27 583.37 L120.32 583.04 L121.37 582.67 L122.42 582.27 L123.47 581.84 L124.52 581.38 L125.58 580.90 L126.63 580.40 L127.68 579.88 L128.73 579.35 L129.78 578.80 L130.84 578.24 L131.89 577.67 L132.94 577.09 L133.99 576.51 L135.04 575.93 L136.09 575.35 L137.15 574.78 L138.20 574.22 L139.25 573.67 L140.30 573.12 L141.35 572.58 L142.41 572.05 L143.46 571.54 L144.51 571.04 L145.56 570.55 L146.61 570.08 L147.67 569.62 L148.72 569.17 L149.77 568.73 L150.82 568.28 L151.87 567.84 L152.92 567.40 L153.98 566.96 L155.03 566.51 L156.08 566.05 L157.13 565.57 L158.18 565.09 L159.24 564.59 L160.29 564.08 L161.34 563.54 L162.39 562.98 L163.44 562.39 L164.49 561.77 L165.55 561.12 L166.60 560.43 L167.65 559.70 L168.70 558.94 L169.75 558.12 L170.81 557.25 L171.86 556.33 L172.91 555.35 L173.96 554.31 L175.01 553.21 L176.07 552.05 L177.12 550.83 L178.17 549.56 L179.22 548.23 L180.27 546.86 L181.32 545.46 L182.38 544.04 L183.43 542.60 L184.48 541.16 L185.53 539.71 L186.58 538.24 L187.64 536.76 L188.69 535.26 L189.74 533.74 L190.79 532.19 L191.84 530.61 L192.89 529.00 L193.95 527.35 L195.00 525.67 L196.05 523.96 L197.10 522.23 L198.15 520.47 L199.21 518.70 L200.26 516.92 L201.31 515.14 L202.36 513.34 L203.41 511.54 L204.47 509.73 L205.52 507.92 L206.57 506.11 L207.62 504.30 L208.67 502.48 L209.72 500.66 L210.78 498.81 L211.83 496.93 L212.88 494.99 L213.93 492.98 L214.98 490.88 L216.04 488.68 L217.09 486.39 L218.14 484.00 L219.19 481.52 L220.24 478.93 L221.30 476.25 L222.35 473.50 L223.40 470.70 L224.45 467.89 L225.50 465.09 L226.55 462.33 L227.61 459.64 L228.66 457.05 L229.71 454.58 L230.76 452.22 L231.81 449.94 L232.87 447.74 L233.92 445.58 L234.97 443.46 L236.02 441.35 L237.07 439.24 L238.12 437.12 L239.18 434.98 L240.23 432.79 L241.28 430.57 L242.33 428.30 L243.38 425.98 L244.44 423.59 L245.49 421.13 L246.54 418.58 L247.59 415.94 L248.64 413.20 L249.70 410.38 L250.75 407.47 L251.80 404.50 L252.85 401.47 L253.90 398.39 L254.95 395.28 L256.01 392.14 L257.06 388.99 L258.11 385.85 L259.16 382.72 L260.21 379.64 L261.27 376.60 L262.32 373.59 L263.37 370.58 L264.42 367.54 L265.47 364.46 L266.52 361.30 L267.58 358.06 L268.63 354.77 L269.68 351.46 L270.73 348.16 L271.78 344.91 L272.84 341.73 L273.89 338.65 L274.94 335.66 L275.99 332.72 L277.04 329.83 L278.10 326.93 L279.15 324.02 L280.20 321.05 L281.25 318.02 L282.30 314.92 L283.35 311.76 L284.41 308.53 L285.46 305.25 L286.51 301.90 L287.56 298.51 L288.61 295.06 L289.67 291.58 L290.72 288.07 L291.77 284.54 L292.82 280.99 L293.87 277.45 L294.93 273.93 L295.98 270.51 L297.03 267.23 L298.08 264.14 L299.13 261.19 L300.18 258.35 L301.24 255.61 L302.29 252.93 L303.34 250.29 L304.39 247.65 L305.44 244.99 L306.50 242.29 L307.55 239.55 L308.60 236.78 L309.65 233.98 L310.70 231.16 L311.75 228.32 L312.81 225.49 L313.86 222.65 L314.91 219.81 L315.96 216.97 L317.01 214.14 L318.07 211.31 L319.12 208.49 L320.17 205.69 L321.22 202.93 L322.27 200.21 L323.33 197.56 L324.38 194.98 L325.43 192.47 L326.48 190.02 L327.53 187.63 L328.58 185.31 L329.64 183.06 L330.69 180.89 L331.74 178.80 L332.79 176.81 L333.84 174.90 L334.90 173.07 L335.95 171.30 L337.00 169.59 L338.05 167.96 L339.10 166.40 L340.15 164.90 L341.21 163.47 L342.26 162.10 L343.31 160.79 L344.36 159.53 L345.41 158.34 L346.47 157.20 L347.52 156.11 L348.57 155.08 L349.62 154.10 L350.67 153.17 L351.73 152.30 L352.78 151.48 L353.83 150.72 L354.88 150.01 L355.93 149.36 L356.98 148.77 L358.04 148.24 L359.09 147.76 L360.14 147.34 L361.19 146.97 L362.24 146.67 L363.30 146.43 L364.35 146.24 L365.40 146.11 L366.45 146.03 L367.50 146.02 L368.56 146.05 L369.61 146.15 L370.66 146.30 L371.71 146.50 L372.76 146.75 L373.81 147.06 L374.87 147.41 L375.92 147.82 L376.97 148.27 L378.02 148.76 L379.07 149.30 L380.13 149.88 L381.18 150.49 L382.23 151.14 L383.28 151.81 L384.33 152.51 L385.38 153.22 L386.44 153.94 L387.49 154.67 L388.54 155.41 L389.59 156.14 L390.64 156.86 L391.70 157.57 L392.75 158.26 L393.80 158.93 L394.85 159.58 L395.90 160.20 L396.96 160.80 L398.01 161.37 L399.06 161.91 L400.11 162.42 L401.16 162.90 L402.21 163.36 L403.27 163.78 L404.32 164.18 L405.37 164.54 L406.42 164.88 L407.47 165.19 L408.53 165.47 L409.58 165.73 L410.63 165.96 L411.68 166.17 L412.73 166.36 L413.78 166.52 L414.84 166.67 L415.89 166.81 L416.94 166.92 L417.99 167.03 L419.04 167.12 L420.10 167.20 L421.15 167.28 L422.20 167.34 L423.25 167.41 L424.30 167.47 L425.36 167.53 L426.41 167.60 L427.46 167.67 L428.51 167.74 L429.56 167.83 L430.61 167.92 L431.67 168.02 L432.72 168.14 L433.77 168.27 L434.82 168.43 L435.87 168.60 L436.93 168.79 L437.98 169.00 L439.03 169.24 L440.08 169.51 L441.13 169.80 L442.19 170.12 L443.24 170.47 L444.29 170.86 L445.34 171.29 L446.39 171.75 L447.44 172.25 L448.50 172.80 L449.55 173.39 L450.60 174.02 L451.65 174.71 L452.70 175.44 L453.76 176.23 L454.81 177.08 L455.86 177.97 L456.91 178.93 L457.96 179.93 L459.01 180.99 L460.07 182.11 L461.12 183.27 L462.17 184.49 L463.22 185.75 L464.27 187.06 L465.33 188.41 L466.38 189.81 L467.43 191.25 L468.48 192.72 L469.53 194.21 L470.59 195.74 L471.64 197.28 L472.69 198.84 L473.74 200.42 L474.79 202.03 L475.84 203.64 L476.90 205.28 L477.95 206.92 L479.00 208.58 L480.05 210.25 L481.10 211.93 L482.16 213.61 L483.21 215.30 L484.26 216.99 L485.31 218.67 L486.36 220.35 L487.42 222.03 L488.47 223.69 L489.52 225.36 L490.57 227.02 L491.62 228.69 L492.67 230.36 L493.73 232.03 L494.78 233.71 L495.83 235.38 L496.88 237.06 L497.93 238.74 L498.99 240.42 L500.04 242.09 L501.09 243.76 L502.14 245.41 L503.19 247.04 L504.24 248.66 L505.30 250.26 L506.35 251.85 L507.40 253.43 L508.45 254.98 L509.50 256.53 L510.56 258.05 L511.61 259.56 L512.66 261.06 L513.71 262.55 L514.76 264.04 L515.82 265.52 L516.87 267.00 L517.92 268.48 L518.97 269.97 L520.02 271.46 L521.07 272.97 L522.13 274.49 L523.18 276.03 L524.23 277.60 L525.28 279.19 L526.33 280.81 L527.39 282.46 L528.44 284.14 L529.49 285.87 L530.54 287.63 L531.59 289.43 L532.64 291.27 L533.70 293.15 L534.75 295.06 L535.80 297.00 L536.85 298.97 L537.90 300.97 L538.96 302.99 L540.01 305.02 L541.06 307.06 L542.11 309.11 L543.16 311.14 L544.22 313.16 L545.27 315.16 L546.32 317.13 L547.37 319.08 L548.42 320.99 L549.47 322.89 L550.53 324.75 L551.58 326.59 L552.63 328.40 L553.68 330.20 L554.73 331.99 L555.79 333.78 L556.84 335.56 L557.89 337.35 L558.94 339.16 L559.99 340.97 L561.04 342.79 L562.10 344.63 L563.15 346.49 L564.20 348.37 L565.25 350.27 L566.30 352.18 L567.36 354.11 L568.41 356.06 L569.46 358.04 L570.51 360.03 L571.56 362.02 L572.62 364.01 L573.67 365.99 L574.72 367.96 L575.77 369.92 L576.82 371.87 L577.87 373.77 L578.93 375.62 L579.98 377.44 L581.03 379.23 L582.08 381.03 L583.13 382.85 L584.19 384.71 L585.24 386.60 L586.29 388.53 L587.34 390.49 L588.39 392.47 L589.45 394.49 L590.50 396.52 L591.55 398.57 L592.60 400.64 L593.65 402.71 L594.70 404.78 L595.76 406.84 L596.81 408.90 L597.86 410.94 L598.91 412.97 L599.96 414.97 L601.02 416.94 L602.07 418.89 L603.12 420.80 L604.17 422.67 L605.22 424.51 L606.27 426.31 L607.33 428.06 L608.38 429.78 L609.43 431.45 L610.48 433.08 L611.53 434.67 L612.59 436.23 L613.64 437.76 L614.69 439.27 L615.74 440.76 L616.79 442.24 L617.85 443.69 L618.90 445.12 L619.95 446.53 L621.00 447.94 L622.05 449.34 L623.10 450.73 L624.16 452.11 L625.21 453.49 L626.26 454.86 L627.31 456.25 L628.36 457.63 L629.42 459.03 L630.47 460.44 L631.52 461.87 L632.57 463.30 L633.62 464.75 L634.67 466.22 L635.73 467.70 L636.78 469.20 L637.83 470.70 L638.88 472.22 L639.93 473.74 L640.99 475.27 L642.04 476.81 L643.09 478.34 L644.14 479.87 L645.19 481.40 L646.25 482.92 L647.30 484.43 L648.35 485.93 L649.40 487.41 L650.45 488.88 L651.50 490.33 L652.56 491.76 L653.61 493.18 L654.66 494.58 L655.71 495.95 L656.76 497.32 L657.82 498.66 L658.87 499.99 L659.92 501.30 L660.97 502.60 L662.02 503.89 L663.08 505.16 L664.13 506.42 L665.18 507.67 L666.23 508.91 L667.28 510.12 L668.33 511.33 L669.39 512.51 L670.44 513.67 L671.49 514.82 L672.54 515.94 L673.59 517.04 L674.65 518.12 L675.70 519.17 L676.75 520.20 L677.80 521.20 L678.85 522.18 L679.90 523.14 L680.96 524.07 L682.01 524.99 L683.06 525.88 L684.11 526.74 L685.16 527.60 L686.22 528.43 L687.27 529.24 L688.32 530.05 L689.37 530.83 L690.42 531.61 L691.48 532.37 L692.53 533.11 L693.58 533.85 L694.63 534.58 L695.68 535.30 L696.73 536.01 L697.79 536.71 L698.84 537.41 L699.89 538.11 L700.94 538.81 L701.99 539.50 L703.05 540.20 L704.10 540.90 L705.15 541.60 L706.20 542.30 L707.25 543.01 L708.30 543.72 L709.36 544.44 L710.41 545.16 L711.46 545.89 L712.51 546.62 L713.56 547.35 L714.62 548.09 L715.67 548.83 L716.72 549.58 L717.77 550.32 L718.82 551.07 L719.88 551.81 L720.93 552.56 L721.98 553.31 L723.03 554.06 L724.08 554.81 L725.13 555.57 L726.19 556.32 L727.24 557.07 L728.29 557.83 L729.34 558.59 L730.39 559.35 L731.45 560.11 L732.50 560.87 L733.55 561.61 L734.60 562.35 L735.65 563.08 L736.71 563.81 L737.76 564.52 L738.81 565.23 L739.86 565.92 L740.91 566.60 L741.96 567.26 L743.02 567.91 L744.07 568.54 L745.12 569.15 L746.17 569.73 L747.22 570.28 L748.28 570.82 L749.33 571.33 L750.38 571.82 L751.43 572.28 L752.48 572.73 L753.53 573.16 L754.59 573.57 L755.64 573.96 L756.69 574.34 L757.74 574.70 L758.79 575.06 L759.85 575.40 L760.90 575.74 L761.95 576.06 L763.00 576.39 L764.05 576.70 L765.11 577.02 L766.16 577.33 L767.21 577.64 L768.26 577.95 L769.31 578.26 L770.36 578.57 L771.42 578.88 L772.47 579.20 L773.52 579.52 L774.57 579.84 L775.62 580.16 L776.68 580.48 L777.73 580.81 L778.78 581.14 L779.83 581.47 L780.88 581.80 L781.93 582.12 L782.99 582.45 L784.04 582.78 L785.09 583.11 L786.14 583.43 L787.19 583.76 L788.25 584.08 L789.30 584.40 L790.35 584.72 L791.40 585.05 L792.45 585.37 L793.51 585.69 L794.56 586.02 L795.61 586.35 L796.66 586.68 L797.71 587.01 L798.76 587.35 L799.82 587.70 L800.87 588.05 L801.92 588.41 L802.97 588.77 L804.02 589.14 L805.08 589.52 L806.13 589.91 L807.18 590.30 L808.23 590.70 L809.28 591.11 L810.34 591.53 L811.39 591.96 L812.44 592.40 L813.49 592.84 L814.54 593.28 L815.59 593.74 L816.65 594.19 L817.70 594.65 L818.75 595.11" fill="none" stroke="#ffa000" stroke-width="2.4" stroke-linejoin="round" stroke-linecap="butt"/>
<path d="M82.45 559.92 L83.50 560.30 L84.55 560.68 L85.61 561.08 L86.66 561.52 L87.71 562.03 L88.76 562.62 L89.81 563.30 L90.86 564.09 L91.92 564.99 L92.97 566.00 L94.02 567.10 L95.07 568.27 L96.12 569.47 L97.18 570.67 L98.23 571.82 L99.28 572.91 L100.33 573.89 L101.38 574.77 L102.44 575.54 L103.49 576.22 L104.54 576.79 L105.59 577.28 L106.64 577.69 L107.69 578.03 L108.75 578.29 L109.80 578.49 L110.85 578.63 L111.90 578.71 L112.95 578.74 L114.01 578.71 L115.06 578.63 L116.11 578.50 L117.16 578.32 L118.21 578.10 L119.27 577.84 L120.32 577.53 L121.37 577.18 L122.42 576.80 L123.47 576.37 L124.52 575.92 L125.58 575.43 L126.63 574.92 L127.68 574.37 L128.73 573.80 L129.78 573.20 L130.84 572.57 L131.89 571.92 L132.94 571.24 L133.99 570.54 L135.04 569.82 L136.09 569.09 L137.15 568.35 L138.20 567.59 L139.25 566.83 L140.30 566.05 L141.35 565.27 L142.41 564.48 L143.46 563.69 L144.51 562.90 L145.56 562.10 L146.61 561.30 L147.67 560.51 L148.72 559.70 L149.77 558.89 L150.82 558.07 L151.87 557.24 L152.92 556.40 L153.98 555.54 L155.03 554.68 L156.08 553.79 L157.13 552.89 L158.18 551.97 L159.24 551.03 L160.29 550.07 L161.34 549.10 L162.39 548.12 L163.44 547.11 L164.49 546.09 L165.55 545.05 L166.60 543.98 L167.65 542.89 L168.70 541.77 L169.75 540.61 L170.81 539.43 L171.86 538.23 L172.91 536.99 L173.96 535.73 L175.01 534.45 L176.07 533.15 L177.12 531.83 L178.17 530.49 L179.22 529.14 L180.27 527.78 L181.32 526.39 L182.38 524.99 L183.43 523.56 L184.48 522.12 L185.53 520.64 L186.58 519.13 L187.64 517.59 L188.69 516.01 L189.74 514.39 L190.79 512.74 L191.84 511.06 L192.89 509.35 L193.95 507.62 L195.00 505.89 L196.05 504.15 L197.10 502.40 L198.15 500.65 L199.21 498.91 L200.26 497.16 L201.31 495.39 L202.36 493.56 L203.41 491.65 L204.47 489.67 L205.52 487.65 L206.57 485.59 L207.62 483.49 L208.67 481.38 L209.72 479.28 L210.78 477.19 L211.83 475.11 L212.88 473.04 L213.93 470.98 L214.98 468.93 L216.04 466.87 L217.09 464.82 L218.14 462.77 L219.19 460.71 L220.24 458.65 L221.30 456.57 L222.35 454.47 L223.40 452.34 L224.45 450.19 L225.50 448.02 L226.55 445.87 L227.61 443.72 L228.66 441.60 L229.71 439.50 L230.76 437.43 L231.81 435.38 L232.87 433.34 L233.92 431.31 L234.97 429.28 L236.02 427.25 L237.07 425.22 L238.12 423.18 L239.18 421.09 L240.23 418.91 L241.28 416.60 L242.33 414.11 L243.38 411.47 L244.44 408.71 L245.49 405.87 L246.54 403.00 L247.59 400.11 L248.64 397.20 L249.70 394.27 L250.75 391.33 L251.80 388.37 L252.85 385.41 L253.90 382.43 L254.95 379.44 L256.01 376.43 L257.06 373.40 L258.11 370.34 L259.16 367.25 L260.21 364.13 L261.27 360.97 L262.32 357.78 L263.37 354.57 L264.42 351.36 L265.47 348.18 L266.52 345.04 L267.58 341.95 L268.63 338.94 L269.68 335.98 L270.73 333.05 L271.78 330.14 L272.84 327.23 L273.89 324.31 L274.94 321.38 L275.99 318.41 L277.04 315.40 L278.10 312.36 L279.15 309.28 L280.20 306.18 L281.25 303.06 L282.30 299.94 L283.35 296.82 L284.41 293.72 L285.46 290.64 L286.51 287.60 L287.56 284.61 L288.61 281.69 L289.67 278.83 L290.72 276.06 L291.77 273.36 L292.82 270.73 L293.87 268.15 L294.93 265.60 L295.98 263.08 L297.03 260.57 L298.08 258.08 L299.13 255.60 L300.18 253.15 L301.24 250.72 L302.29 248.29 L303.34 245.86 L304.39 243.41 L305.44 240.93 L306.50 238.41 L307.55 235.85 L308.60 233.27 L309.65 230.66 L310.70 228.05 L311.75 225.40 L312.81 222.71 L313.86 220.00 L314.91 217.27 L315.96 214.53 L317.01 211.79 L318.07 209.08 L319.12 206.41 L320.17 203.79 L321.22 201.21 L322.27 198.67 L323.33 196.18 L324.38 193.72 L325.43 191.31 L326.48 188.94 L327.53 186.60 L328.58 184.29 L329.64 182.03 L330.69 179.80 L331.74 177.63 L332.79 175.53 L333.84 173.50 L334.90 171.55 L335.95 169.66 L337.00 167.85 L338.05 166.13 L339.10 164.51 L340.15 163.01 L341.21 161.62 L342.26 160.35 L343.31 159.18 L344.36 158.12 L345.41 157.16 L346.47 156.29 L347.52 155.53 L348.57 154.85 L349.62 154.25 L350.67 153.72 L351.73 153.26 L352.78 152.86 L353.83 152.52 L354.88 152.23 L355.93 151.99 L356.98 151.79 L358.04 151.64 L359.09 151.52 L360.14 151.44 L361.19 151.39 L362.24 151.38 L363.30 151.40 L364.35 151.46 L365.40 151.54 L366.45 151.66 L367.50 151.81 L368.56 151.99 L369.61 152.21 L370.66 152.45 L371.71 152.73 L372.76 153.03 L373.81 153.37 L374.87 153.74 L375.92 154.13 L376.97 154.55 L378.02 155.01 L379.07 155.49 L380.13 155.99 L381.18 156.52 L382.23 157.06 L383.28 157.61 L384.33 158.17 L385.38 158.73 L386.44 159.29 L387.49 159.84 L388.54 160.38 L389.59 160.90 L390.64 161.41 L391.70 161.90 L392.75 162.37 L393.80 162.81 L394.85 163.24 L395.90 163.64 L396.96 164.01 L398.01 164.36 L399.06 164.68 L400.11 164.98 L401.16 165.26 L402.21 165.52 L403.27 165.75 L404.32 165.96 L405.37 166.15 L406.42 166.33 L407.47 166.49 L408.53 166.64 L409.58 166.78 L410.63 166.92 L411.68 167.05 L412.73 167.18 L413.78 167.31 L414.84 167.44 L415.89 167.59 L416.94 167.74 L417.99 167.91 L419.04 168.10 L420.10 168.31 L421.15 168.55 L422.20 168.81 L423.25 169.09 L424.30 169.41 L425.36 169.74 L426.41 170.10 L427.46 170.49 L428.51 170.90 L429.56 171.34 L430.61 171.81 L431.67 172.30 L432.72 172.82 L433.77 173.37 L434.82 173.95 L435.87 174.56 L436.93 175.20 L437.98 175.86 L439.03 176.56 L440.08 177.29 L441.13 178.05 L442.19 178.84 L443.24 179.66 L444.29 180.52 L445.34 181.41 L446.39 182.34 L447.44 183.29 L448.50 184.28 L449.55 185.30 L450.60 186.35 L451.65 187.44 L452.70 188.55 L453.76 189.68 L454.81 190.85 L455.86 192.04 L456.91 193.25 L457.96 194.48 L459.01 195.73 L460.07 197.00 L461.12 198.28 L462.17 199.56 L463.22 200.86 L464.27 202.16 L465.33 203.47 L466.38 204.77 L467.43 206.07 L468.48 207.37 L469.53 208.66 L470.59 209.95 L471.64 211.23 L472.69 212.51 L473.74 213.78 L474.79 215.05 L475.84 216.30 L476.90 217.55 L477.95 218.79 L479.00 220.03 L480.05 221.27 L481.10 222.51 L482.16 223.77 L483.21 225.02 L484.26 226.30 L485.31 227.58 L486.36 228.88 L487.42 230.20 L488.47 231.53 L489.52 232.88 L490.57 234.26 L491.62 235.67 L492.67 237.10 L493.73 238.56 L494.78 240.04 L495.83 241.56 L496.88 243.11 L497.93 244.70 L498.99 246.33 L500.04 248.01 L501.09 249.74 L502.14 251.52 L503.19 253.35 L504.24 255.20 L505.30 257.08 L506.35 258.97 L507.40 260.88 L508.45 262.80 L509.50 264.72 L510.56 266.64 L511.61 268.55 L512.66 270.46 L513.71 272.35 L514.76 274.23 L515.82 276.09 L516.87 277.94 L517.92 279.77 L518.97 281.59 L520.02 283.38 L521.07 285.16 L522.13 286.92 L523.18 288.65 L524.23 290.37 L525.28 292.07 L526.33 293.76 L527.39 295.43 L528.44 297.10 L529.49 298.77 L530.54 300.45 L531.59 302.13 L532.64 303.81 L533.70 305.51 L534.75 307.21 L535.80 308.92 L536.85 310.64 L537.90 312.37 L538.96 314.10 L540.01 315.83 L541.06 317.55 L542.11 319.25 L543.16 320.93 L544.22 322.59 L545.27 324.22 L546.32 325.84 L547.37 327.44 L548.42 329.02 L549.47 330.58 L550.53 332.11 L551.58 333.64 L552.63 335.17 L553.68 336.72 L554.73 338.30 L555.79 339.92 L556.84 341.56 L557.89 343.22 L558.94 344.93 L559.99 346.69 L561.04 348.50 L562.10 350.38 L563.15 352.30 L564.20 354.26 L565.25 356.27 L566.30 358.33 L567.36 360.47 L568.41 362.67 L569.46 364.92 L570.51 367.21 L571.56 369.53 L572.62 371.85 L573.67 374.15 L574.72 376.41 L575.77 378.63 L576.82 380.81 L577.87 382.98 L578.93 385.13 L579.98 387.27 L581.03 389.39 L582.08 391.51 L583.13 393.61 L584.19 395.70 L585.24 397.77 L586.29 399.84 L587.34 401.89 L588.39 403.92 L589.45 405.95 L590.50 407.96 L591.55 409.96 L592.60 411.95 L593.65 413.93 L594.70 415.90 L595.76 417.85 L596.81 419.79 L597.86 421.70 L598.91 423.60 L599.96 425.48 L601.02 427.33 L602.07 429.18 L603.12 431.00 L604.17 432.82 L605.22 434.63 L606.27 436.42 L607.33 438.20 L608.38 439.96 L609.43 441.71 L610.48 443.45 L611.53 445.17 L612.59 446.87 L613.64 448.55 L614.69 450.21 L615.74 451.85 L616.79 453.47 L617.85 455.08 L618.90 456.68 L619.95 458.26 L621.00 459.82 L622.05 461.37 L623.10 462.91 L624.16 464.43 L625.21 465.93 L626.26 467.41 L627.31 468.88 L628.36 470.33 L629.42 471.76 L630.47 473.17 L631.52 474.57 L632.57 475.95 L633.62 477.32 L634.67 478.67 L635.73 480.02 L636.78 481.35 L637.83 482.67 L638.88 483.98 L639.93 485.28 L640.99 486.56 L642.04 487.84 L643.09 489.10 L644.14 490.35 L645.19 491.59 L646.25 492.82 L647.30 494.03 L648.35 495.22 L649.40 496.40 L650.45 497.57 L651.50 498.72 L652.56 499.86 L653.61 500.98 L654.66 502.10 L655.71 503.20 L656.76 504.29 L657.82 505.38 L658.87 506.46 L659.92 507.54 L660.97 508.62 L662.02 509.71 L663.08 510.80 L664.13 511.90 L665.18 513.02 L666.23 514.15 L667.28 515.28 L668.33 516.43 L669.39 517.57 L670.44 518.72 L671.49 519.87 L672.54 521.02 L673.59 522.16 L674.65 523.30 L675.70 524.42 L676.75 525.53 L677.80 526.63 L678.85 527.70 L679.90 528.76 L680.96 529.80 L682.01 530.81 L683.06 531.81 L684.11 532.78 L685.16 533.74 L686.22 534.67 L687.27 535.59 L688.32 536.49 L689.37 537.36 L690.42 538.22 L691.48 539.05 L692.53 539.87 L693.58 540.68 L694.63 541.47 L695.68 542.24 L696.73 543.01 L697.79 543.76 L698.84 544.50 L699.89 545.23 L700.94 545.96 L701.99 546.68 L703.05 547.39 L704.10 548.10 L705.15 548.81 L706.20 549.51 L707.25 550.20 L708.30 550.89 L709.36 551.58 L710.41 552.26 L711.46 552.94 L712.51 553.61 L713.56 554.28 L714.62 554.94 L715.67 555.60 L716.72 556.26 L717.77 556.91 L718.82 557.56 L719.88 558.20 L720.93 558.84 L721.98 559.48 L723.03 560.12 L724.08 560.75 L725.13 561.38 L726.19 562.01 L727.24 562.63 L728.29 563.24 L729.34 563.86 L730.39 564.47 L731.45 565.08 L732.50 565.68 L733.55 566.28 L734.60 566.88 L735.65 567.47 L736.71 568.06 L737.76 568.64 L738.81 569.22 L739.86 569.79 L740.91 570.36 L741.96 570.92 L743.02 571.46 L744.07 572.00 L745.12 572.53 L746.17 573.04 L747.22 573.54 L748.28 574.03 L749.33 574.50 L750.38 574.96 L751.43 575.41 L752.48 575.85 L753.53 576.28 L754.59 576.69 L755.64 577.10 L756.69 577.49 L757.74 577.88 L758.79 578.25 L759.85 578.62 L760.90 578.98 L761.95 579.33 L763.00 579.67 L764.05 580.00 L765.11 580.33 L766.16 580.65 L767.21 580.97 L768.26 581.28 L769.31 581.59 L770.36 581.90 L771.42 582.20 L772.47 582.50 L773.52 582.80 L774.57 583.10 L775.62 583.40 L776.68 583.69 L777.73 583.98 L778.78 584.28 L779.83 584.57 L780.88 584.86 L781.93 585.15 L782.99 585.44 L784.04 585.74 L785.09 586.03 L786.14 586.32 L787.19 586.61 L788.25 586.90 L789.30 587.19 L790.35 587.48 L791.40 587.77 L792.45 588.06 L793.51 588.35 L794.56 588.65 L795.61 588.94 L796.66 589.24 L797.71 589.54 L798.76 589.84 L799.82 590.15 L800.87 590.46 L801.92 590.78 L802.97 591.10 L804.02 591.42 L805.08 591.76 L806.13 592.10 L807.18 592.44 L808.23 592.79 L809.28 593.15 L810.34 593.52 L811.39 593.89 L812.44 594.27 L813.49 594.65 L814.54 595.03 L815.59 595.42 L816.65 595.80 L817.70 596.19 L818.75 596.58" fill="none" stroke="#ff2020" stroke-width="2.4" stroke-linejoin="round" stroke-linecap="butt"/>
<path d="M82.45 567.64 L83.50 567.34 L84.55 567.04 L85.61 566.76 L86.66 566.52 L87.71 566.31 L88.76 566.16 L89.81 566.06 L90.86 566.02 L91.92 566.03 L92.97 566.11 L94.02 566.23 L95.07 566.39 L96.12 566.59 L97.18 566.81 L98.23 567.05 L99.28 567.31 L100.33 567.58 L101.38 567.84 L102.44 568.11 L103.49 568.36 L104.54 568.60 L105.59 568.82 L106.64 569.01 L107.69 569.18 L108.75 569.31 L109.80 569.42 L110.85 569.49 L111.90 569.53 L112.95 569.52 L114.01 569.48 L115.06 569.40 L116.11 569.29 L117.16 569.13 L118.21 568.93 L119.27 568.70 L120.32 568.42 L121.37 568.11 L122.42 567.76 L123.47 567.37 L124.52 566.95 L125.58 566.49 L126.63 566.00 L127.68 565.48 L128.73 564.93 L129.78 564.35 L130.84 563.75 L131.89 563.12 L132.94 562.46 L133.99 561.79 L135.04 561.09 L136.09 560.38 L137.15 559.65 L138.20 558.90 L139.25 558.15 L140.30 557.38 L141.35 556.60 L142.41 555.82 L143.46 555.02 L144.51 554.22 L145.56 553.40 L146.61 552.58 L147.67 551.74 L148.72 550.89 L149.77 550.02 L150.82 549.12 L151.87 548.20 L152.92 547.26 L153.98 546.31 L155.03 545.35 L156.08 544.39 L157.13 543.43 L158.18 542.46 L159.24 541.49 L160.29 540.50 L161.34 539.51 L162.39 538.50 L163.44 537.49 L164.49 536.48 L165.55 535.47 L166.60 534.47 L167.65 533.47 L168.70 532.48 L169.75 531.48 L170.81 530.47 L171.86 529.44 L172.91 528.40 L173.96 527.33 L175.01 526.24 L176.07 525.14 L177.12 524.01 L178.17 522.87 L179.22 521.71 L180.27 520.53 L181.32 519.33 L182.38 518.10 L183.43 516.85 L184.48 515.56 L185.53 514.24 L186.58 512.89 L187.64 511.50 L188.69 510.07 L189.74 508.61 L190.79 507.11 L191.84 505.58 L192.89 504.02 L193.95 502.44 L195.00 500.84 L196.05 499.19 L197.10 497.49 L198.15 495.73 L199.21 493.91 L200.26 492.02 L201.31 490.03 L202.36 487.95 L203.41 485.80 L204.47 483.59 L205.52 481.37 L206.57 479.19 L207.62 477.04 L208.67 474.93 L209.72 472.84 L210.78 470.78 L211.83 468.73 L212.88 466.68 L213.93 464.64 L214.98 462.59 L216.04 460.53 L217.09 458.44 L218.14 456.31 L219.19 454.13 L220.24 451.87 L221.30 449.56 L222.35 447.20 L223.40 444.81 L224.45 442.40 L225.50 439.98 L226.55 437.56 L227.61 435.13 L228.66 432.69 L229.71 430.23 L230.76 427.75 L231.81 425.25 L232.87 422.71 L233.92 420.14 L234.97 417.51 L236.02 414.79 L237.07 412.01 L238.12 409.18 L239.18 406.30 L240.23 403.41 L241.28 400.52 L242.33 397.64 L243.38 394.80 L244.44 391.98 L245.49 389.19 L246.54 386.43 L247.59 383.71 L248.64 381.02 L249.70 378.37 L250.75 375.74 L251.80 373.10 L252.85 370.44 L253.90 367.74 L254.95 364.97 L256.01 362.11 L257.06 359.16 L258.11 356.12 L259.16 353.02 L260.21 349.89 L261.27 346.75 L262.32 343.64 L263.37 340.58 L264.42 337.59 L265.47 334.63 L266.52 331.71 L267.58 328.80 L268.63 325.91 L269.68 323.02 L270.73 320.12 L271.78 317.21 L272.84 314.27 L273.89 311.30 L274.94 308.31 L275.99 305.30 L277.04 302.29 L278.10 299.28 L279.15 296.30 L280.20 293.34 L281.25 290.41 L282.30 287.51 L283.35 284.65 L284.41 281.80 L285.46 278.98 L286.51 276.19 L287.56 273.41 L288.61 270.68 L289.67 267.99 L290.72 265.36 L291.77 262.79 L292.82 260.27 L293.87 257.80 L294.93 255.38 L295.98 252.98 L297.03 250.62 L298.08 248.27 L299.13 245.94 L300.18 243.62 L301.24 241.31 L302.29 239.00 L303.34 236.70 L304.39 234.40 L305.44 232.09 L306.50 229.79 L307.55 227.50 L308.60 225.21 L309.65 222.92 L310.70 220.62 L311.75 218.31 L312.81 215.97 L313.86 213.61 L314.91 211.24 L315.96 208.88 L317.01 206.54 L318.07 204.17 L319.12 201.76 L320.17 199.29 L321.22 196.77 L322.27 194.26 L323.33 191.78 L324.38 189.35 L325.43 186.95 L326.48 184.58 L327.53 182.25 L328.58 179.96 L329.64 177.75 L330.69 175.62 L331.74 173.57 L332.79 171.62 L333.84 169.74 L334.90 167.92 L335.95 166.15 L337.00 164.46 L338.05 162.86 L339.10 161.37 L340.15 160.00 L341.21 158.75 L342.26 157.62 L343.31 156.60 L344.36 155.69 L345.41 154.89 L346.47 154.20 L347.52 153.60 L348.57 153.09 L349.62 152.68 L350.67 152.35 L351.73 152.11 L352.78 151.95 L353.83 151.86 L354.88 151.86 L355.93 151.93 L356.98 152.08 L358.04 152.30 L359.09 152.59 L360.14 152.95 L361.19 153.37 L362.24 153.86 L363.30 154.40 L364.35 155.00 L365.40 155.65 L366.45 156.35 L367.50 157.08 L368.56 157.84 L369.61 158.62 L370.66 159.41 L371.71 160.20 L372.76 160.99 L373.81 161.76 L374.87 162.51 L375.92 163.24 L376.97 163.94 L378.02 164.62 L379.07 165.26 L380.13 165.87 L381.18 166.46 L382.23 167.01 L383.28 167.53 L384.33 168.03 L385.38 168.50 L386.44 168.94 L387.49 169.37 L388.54 169.78 L389.59 170.18 L390.64 170.57 L391.70 170.94 L392.75 171.32 L393.80 171.69 L394.85 172.05 L395.90 172.42 L396.96 172.80 L398.01 173.18 L399.06 173.56 L400.11 173.96 L401.16 174.37 L402.21 174.80 L403.27 175.24 L404.32 175.70 L405.37 176.19 L406.42 176.70 L407.47 177.23 L408.53 177.80 L409.58 178.39 L410.63 179.02 L411.68 179.67 L412.73 180.36 L413.78 181.07 L414.84 181.80 L415.89 182.57 L416.94 183.35 L417.99 184.16 L419.04 184.98 L420.10 185.82 L421.15 186.68 L422.20 187.54 L423.25 188.42 L424.30 189.31 L425.36 190.19 L426.41 191.08 L427.46 191.98 L428.51 192.86 L429.56 193.74 L430.61 194.62 L431.67 195.48 L432.72 196.34 L433.77 197.18 L434.82 198.01 L435.87 198.83 L436.93 199.63 L437.98 200.43 L439.03 201.21 L440.08 201.98 L441.13 202.74 L442.19 203.48 L443.24 204.21 L444.29 204.94 L445.34 205.66 L446.39 206.37 L447.44 207.07 L448.50 207.77 L449.55 208.47 L450.60 209.16 L451.65 209.86 L452.70 210.55 L453.76 211.24 L454.81 211.94 L455.86 212.64 L456.91 213.34 L457.96 214.04 L459.01 214.75 L460.07 215.46 L461.12 216.18 L462.17 216.90 L463.22 217.63 L464.27 218.36 L465.33 219.10 L466.38 219.85 L467.43 220.60 L468.48 221.35 L469.53 222.11 L470.59 222.88 L471.64 223.65 L472.69 224.43 L473.74 225.21 L474.79 226.00 L475.84 226.80 L476.90 227.60 L477.95 228.42 L479.00 229.24 L480.05 230.06 L481.10 230.90 L482.16 231.75 L483.21 232.60 L484.26 233.47 L485.31 234.36 L486.36 235.26 L487.42 236.18 L488.47 237.13 L489.52 238.10 L490.57 239.10 L491.62 240.12 L492.67 241.18 L493.73 242.26 L494.78 243.39 L495.83 244.55 L496.88 245.75 L497.93 247.00 L498.99 248.29 L500.04 249.63 L501.09 251.01 L502.14 252.43 L503.19 253.89 L504.24 255.39 L505.30 256.92 L506.35 258.48 L507.40 260.07 L508.45 261.68 L509.50 263.30 L510.56 264.94 L511.61 266.60 L512.66 268.27 L513.71 269.95 L514.76 271.64 L515.82 273.34 L516.87 275.04 L517.92 276.75 L518.97 278.47 L520.02 280.19 L521.07 281.91 L522.13 283.63 L523.18 285.34 L524.23 287.06 L525.28 288.78 L526.33 290.49 L527.39 292.21 L528.44 293.92 L529.49 295.63 L530.54 297.35 L531.59 299.08 L532.64 300.84 L533.70 302.63 L534.75 304.43 L535.80 306.25 L536.85 308.06 L537.90 309.88 L538.96 311.68 L540.01 313.48 L541.06 315.25 L542.11 317.00 L543.16 318.72 L544.22 320.42 L545.27 322.08 L546.32 323.73 L547.37 325.35 L548.42 326.94 L549.47 328.52 L550.53 330.08 L551.58 331.62 L552.63 333.15 L553.68 334.66 L554.73 336.17 L555.79 337.68 L556.84 339.18 L557.89 340.70 L558.94 342.22 L559.99 343.76 L561.04 345.32 L562.10 346.92 L563.15 348.54 L564.20 350.20 L565.25 351.90 L566.30 353.63 L567.36 355.41 L568.41 357.24 L569.46 359.12 L570.51 361.05 L571.56 363.03 L572.62 365.05 L573.67 367.12 L574.72 369.24 L575.77 371.39 L576.82 373.56 L577.87 375.75 L578.93 377.95 L579.98 380.16 L581.03 382.37 L582.08 384.59 L583.13 386.82 L584.19 389.04 L585.24 391.27 L586.29 393.49 L587.34 395.71 L588.39 397.91 L589.45 400.10 L590.50 402.28 L591.55 404.45 L592.60 406.60 L593.65 408.74 L594.70 410.87 L595.76 412.98 L596.81 415.08 L597.86 417.16 L598.91 419.22 L599.96 421.27 L601.02 423.29 L602.07 425.29 L603.12 427.27 L604.17 429.22 L605.22 431.15 L606.27 433.04 L607.33 434.92 L608.38 436.78 L609.43 438.62 L610.48 440.45 L611.53 442.26 L612.59 444.07 L613.64 445.89 L614.69 447.70 L615.74 449.53 L616.79 451.35 L617.85 453.19 L618.90 455.04 L619.95 456.89 L621.00 458.75 L622.05 460.61 L623.10 462.46 L624.16 464.31 L625.21 466.16 L626.26 467.99 L627.31 469.82 L628.36 471.63 L629.42 473.44 L630.47 475.23 L631.52 477.00 L632.57 478.77 L633.62 480.51 L634.67 482.24 L635.73 483.95 L636.78 485.65 L637.83 487.33 L638.88 489.00 L639.93 490.66 L640.99 492.30 L642.04 493.93 L643.09 495.55 L644.14 497.15 L645.19 498.75 L646.25 500.33 L647.30 501.91 L648.35 503.46 L649.40 505.00 L650.45 506.51 L651.50 508.00 L652.56 509.46 L653.61 510.88 L654.66 512.27 L655.71 513.63 L656.76 514.95 L657.82 516.24 L658.87 517.50 L659.92 518.73 L660.97 519.93 L662.02 521.09 L663.08 522.23 L664.13 523.33 L665.18 524.41 L666.23 525.46 L667.28 526.48 L668.33 527.46 L669.39 528.42 L670.44 529.34 L671.49 530.24 L672.54 531.10 L673.59 531.94 L674.65 532.75 L675.70 533.54 L676.75 534.30 L677.80 535.03 L678.85 535.74 L679.90 536.43 L680.96 537.11 L682.01 537.76 L683.06 538.41 L684.11 539.05 L685.16 539.67 L686.22 540.29 L687.27 540.91 L688.32 541.52 L689.37 542.12 L690.42 542.73 L691.48 543.33 L692.53 543.93 L693.58 544.53 L694.63 545.14 L695.68 545.74 L696.73 546.34 L697.79 546.95 L698.84 547.55 L699.89 548.16 L700.94 548.77 L701.99 549.38 L703.05 549.98 L704.10 550.59 L705.15 551.20 L706.20 551.80 L707.25 552.41 L708.30 553.01 L709.36 553.61 L710.41 554.22 L711.46 554.82 L712.51 555.42 L713.56 556.02 L714.62 556.63 L715.67 557.23 L716.72 557.84 L717.77 558.45 L718.82 559.07 L719.88 559.68 L720.93 560.30 L721.98 560.92 L723.03 561.55 L724.08 562.18 L725.13 562.81 L726.19 563.44 L727.24 564.07 L728.29 564.70 L729.34 565.33 L730.39 565.97 L731.45 566.60 L732.50 567.23 L733.55 567.86 L734.60 568.48 L735.65 569.11 L736.71 569.73 L737.76 570.34 L738.81 570.95 L739.86 571.54 L740.91 572.13 L741.96 572.71 L743.02 573.27 L744.07 573.83 L745.12 574.37 L746.17 574.89 L747.22 575.40 L748.28 575.90 L749.33 576.38 L750.38 576.85 L751.43 577.30 L752.48 577.74 L753.53 578.17 L754.59 578.59 L755.64 578.99 L756.69 579.38 L757.74 579.77 L758.79 580.14 L759.85 580.50 L760.90 580.86 L761.95 581.21 L763.00 581.55 L764.05 581.89 L765.11 582.22 L766.16 582.54 L767.21 582.86 L768.26 583.18 L769.31 583.49 L770.36 583.80 L771.42 584.11 L772.47 584.42 L773.52 584.72 L774.57 585.03 L775.62 585.33 L776.68 585.64 L777.73 585.94 L778.78 586.24 L779.83 586.54 L780.88 586.85 L781.93 587.15 L782.99 587.45 L784.04 587.75 L785.09 588.05 L786.14 588.35 L787.19 588.65 L788.25 588.95 L789.30 589.24 L790.35 589.54 L791.40 589.83 L792.45 590.13 L793.51 590.42 L794.56 590.71 L795.61 591.00 L796.66 591.29 L797.71 591.58 L798.76 591.87 L799.82 592.16 L800.87 592.45 L801.92 592.74 L802.97 593.03 L804.02 593.33 L805.08 593.62 L806.13 593.92 L807.18 594.23 L808.23 594.53 L809.28 594.84 L810.34 595.15 L811.39 595.47 L812.44 595.78 L813.49 596.10 L814.54 596.42 L815.59 596.74 L816.65 597.07 L817.70 597.39 L818.75 597.71" fill="none" stroke="#8b0000" stroke-width="2.4" stroke-linejoin="round" stroke-linecap="butt"/>
<path d="M82.45 -2 V601.75 H818.75 V-2 M82.45 2.8 H818.75" fill="none" stroke="#000" stroke-width="1.8" stroke-linejoin="round"/>
<path d="M119.27 601.75 V595.05 M119.27 2.8 V9.50 M156.08 601.75 V595.05 M156.08 2.8 V9.50 M192.90 601.75 V595.05 M192.90 2.8 V9.50 M229.71 601.75 V588.05 M229.71 2.8 V16.50 M266.52 601.75 V595.05 M266.52 2.8 V9.50 M303.34 601.75 V595.05 M303.34 2.8 V9.50 M340.15 601.75 V595.05 M340.15 2.8 V9.50 M376.97 601.75 V588.05 M376.97 2.8 V16.50 M413.78 601.75 V595.05 M413.78 2.8 V9.50 M450.60 601.75 V595.05 M450.60 2.8 V9.50 M487.42 601.75 V595.05 M487.42 2.8 V9.50 M524.23 601.75 V588.05 M524.23 2.8 V16.50 M561.04 601.75 V595.05 M561.04 2.8 V9.50 M597.86 601.75 V595.05 M597.86 2.8 V9.50 M634.67 601.75 V595.05 M634.67 2.8 V9.50 M671.49 601.75 V588.05 M671.49 2.8 V16.50 M708.31 601.75 V595.05 M708.31 2.8 V9.50 M745.12 601.75 V595.05 M745.12 2.8 V9.50 M781.94 601.75 V595.05 M781.94 2.8 V9.50 M82.45 581.09 H89.15 M818.75 581.09 H812.05 M82.45 560.43 H89.15 M818.75 560.43 H812.05 M82.45 539.77 H89.15 M818.75 539.77 H812.05 M82.45 519.11 H89.15 M818.75 519.11 H812.05 M82.45 498.45 H96.15 M818.75 498.45 H805.05 M82.45 477.79 H89.15 M818.75 477.79 H812.05 M82.45 457.13 H89.15 M818.75 457.13 H812.05 M82.45 436.47 H89.15 M818.75 436.47 H812.05 M82.45 415.81 H89.15 M818.75 415.81 H812.05 M82.45 395.15 H96.15 M818.75 395.15 H805.05 M82.45 374.49 H89.15 M818.75 374.49 H812.05 M82.45 353.83 H89.15 M818.75 353.83 H812.05 M82.45 333.17 H89.15 M818.75 333.17 H812.05 M82.45 312.51 H89.15 M818.75 312.51 H812.05 M82.45 291.85 H96.15 M818.75 291.85 H805.05 M82.45 271.19 H89.15 M818.75 271.19 H812.05 M82.45 250.53 H89.15 M818.75 250.53 H812.05 M82.45 229.87 H89.15 M818.75 229.87 H812.05 M82.45 209.21 H89.15 M818.75 209.21 H812.05 M82.45 188.55 H96.15 M818.75 188.55 H805.05 M82.45 167.89 H89.15 M818.75 167.89 H812.05 M82.45 147.23 H89.15 M818.75 147.23 H812.05 M82.45 126.57 H89.15 M818.75 126.57 H812.05 M82.45 105.91 H89.15 M818.75 105.91 H812.05 M82.45 85.25 H96.15 M818.75 85.25 H805.05 M82.45 64.59 H89.15 M818.75 64.59 H812.05 M82.45 43.93 H89.15 M818.75 43.93 H812.05 M82.45 23.27 H89.15 M818.75 23.27 H812.05 M82.45 2.61 H89.15 M818.75 2.61 H812.05" fill="none" stroke="#000" stroke-width="1.8" stroke-linecap="round"/>
<text transform="translate(82.45 637.3) scale(1 1.03)" font-size="22.8" text-anchor="middle">0</text>
<text transform="translate(229.71 637.3) scale(1 1.03)" font-size="22.8" text-anchor="middle">0.2</text>
<text transform="translate(376.97 637.3) scale(1 1.03)" font-size="22.8" text-anchor="middle">0.4</text>
<text transform="translate(524.23 637.3) scale(1 1.03)" font-size="22.8" text-anchor="middle">0.6</text>
<text transform="translate(671.49 637.3) scale(1 1.03)" font-size="22.8" text-anchor="middle">0.8</text>
<text transform="translate(818.75 637.3) scale(1 1.03)" font-size="22.8" text-anchor="middle">1</text>
<text transform="translate(63.0 601.75) rotate(-90) scale(1 1.0)" font-size="22.8" text-anchor="middle">0</text>
<text transform="translate(63.0 498.45) rotate(-90) scale(1 1.0)" font-size="22.8" text-anchor="middle">0.5</text>
<text transform="translate(63.0 395.15) rotate(-90) scale(1 1.0)" font-size="22.8" text-anchor="middle">1</text>
<text transform="translate(63.0 291.85) rotate(-90) scale(1 1.0)" font-size="22.8" text-anchor="middle">1.5</text>
<text transform="translate(63.0 188.55) rotate(-90) scale(1 1.0)" font-size="22.8" text-anchor="middle">2</text>
<text transform="translate(63.0 85.25) rotate(-90) scale(1 1.0)" font-size="22.8" text-anchor="middle">2.5</text>
<text transform="translate(450.60 678.9) scale(1 1.042)" font-size="22.5" text-anchor="middle">Tree entropy s</text>
<text transform="translate(22.5 302.27) rotate(-90) scale(1 1.0)" font-size="22.8" text-anchor="middle">Normalised number density</text>
<rect x="561.0" y="45.00" width="36.70" height="18.9" fill="#aaaaaa"/>
<text transform="translate(611.5 63.60) scale(1 1.03)" font-size="22.8">All haloes at z = 0</text>
<path d="M561.20 91.60 H597.70" stroke="#0040c8" stroke-width="2.4" stroke-linecap="round"/>
<text transform="translate(611.5 98.20) scale(1 1.03)" font-size="22.8">Spline fit at z = 0</text>
<path d="M561.20 128.80 H597.70" stroke="#00c800" stroke-width="2.4" stroke-linecap="round"/>
<text transform="translate(611.5 135.40) scale(1 1.03)" font-size="22.8">Spline fit at z = 1</text>
<path d="M561.20 166.00 H597.70" stroke="#cccc00" stroke-width="2.4" stroke-linecap="round"/>
<text transform="translate(611.5 172.60) scale(1 1.03)" font-size="22.8">Spline fit at z = 2</text>
<path d="M561.20 203.20 H597.70" stroke="#ffa000" stroke-width="2.4" stroke-linecap="round"/>
<text transform="translate(611.5 209.80) scale(1 1.03)" font-size="22.8">Spline fit at z = 3</text>
<path d="M561.20 240.40 H597.70" stroke="#ff2020" stroke-width="2.4" stroke-linecap="round"/>
<text transform="translate(611.5 247.00) scale(1 1.03)" font-size="22.8">Spline fit at z = 4</text>
<path d="M561.20 277.60 H597.70" stroke="#8b0000" stroke-width="2.4" stroke-linecap="round"/>
<text transform="translate(611.5 284.20) scale(1 1.03)" font-size="22.8">Spline fit at z = 5</text>
</svg>
</body></html>
